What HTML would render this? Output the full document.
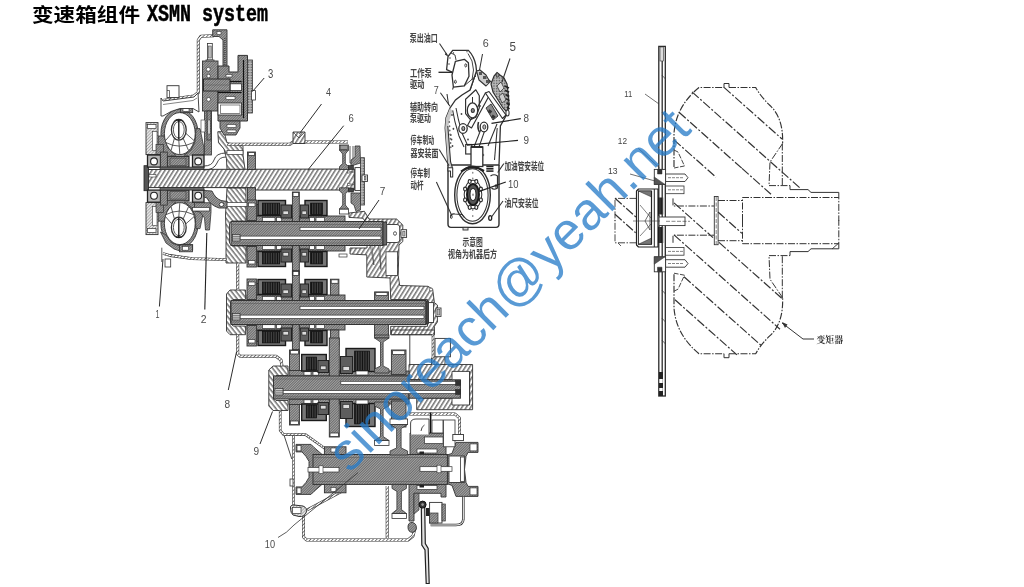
<!DOCTYPE html>
<html lang="zh"><head><meta charset="utf-8"><title>变速箱组件 XSMN system</title>
<style>
html,body{margin:0;padding:0;background:#fff;}
body{width:1024px;height:587px;overflow:hidden;position:relative;font-family:"Liberation Sans","Noto Sans CJK SC",sans-serif;}
h1{position:absolute;left:0;top:0;margin:0;width:400px;height:30px;font-weight:bold;color:#000;white-space:nowrap;}
h1 .c{position:absolute;left:32px;top:-0.5px;font-size:19px;line-height:32px;font-family:"Liberation Sans","Noto Sans CJK SC",sans-serif;transform:scaleX(1.137);transform-origin:0 0;}
h1 .l{position:absolute;left:146.6px;top:-0.7px;font-size:23.5px;-webkit-text-stroke:0.5px #000;line-height:32px;font-family:"Liberation Mono",monospace;transform:scaleX(0.78);transform-origin:0 0;white-space:pre;}
svg{position:absolute;left:0;top:0;}
#dr{filter:blur(0.45px);}
h1{filter:blur(0.3px);}
.wm{position:absolute;left:0;top:0;width:1024px;height:587px;opacity:0.76;pointer-events:none;}
</style></head><body>
<h1><span class="c">变速箱组件</span><span class="l">XSMN system</span></h1>
<svg id="dr" width="1024" height="587" viewBox="0 0 1024 587">
<defs>
<pattern id="hA" width="3.7" height="3.7" patternUnits="userSpaceOnUse" patternTransform="rotate(-58)"><rect width="3.7" height="3.7" fill="#fff"/><line x1="0" y1="0.8" x2="3.7" y2="0.8" stroke="#555" stroke-width="1.25"/></pattern>
<pattern id="hA2" width="3.7" height="3.7" patternUnits="userSpaceOnUse" patternTransform="rotate(52)"><rect width="3.7" height="3.7" fill="#fff"/><line x1="0" y1="0.8" x2="3.7" y2="0.8" stroke="#555" stroke-width="1.25"/></pattern>
<pattern id="hB" width="1.8" height="1.8" patternUnits="userSpaceOnUse" patternTransform="rotate(-45)"><rect width="1.8" height="1.8" fill="#a2a2a2"/><line x1="0" y1="0" x2="1.8" y2="0" stroke="#5a5a5a" stroke-width="1.3"/></pattern>
<pattern id="hC" width="1.7" height="4" patternUnits="userSpaceOnUse"><rect width="1.7" height="4" fill="#555"/><line x1="0.5" y1="0" x2="0.5" y2="4" stroke="#111" stroke-width="1.1"/></pattern>
<pattern id="hL" width="2.2" height="2.2" patternUnits="userSpaceOnUse" patternTransform="rotate(-45)"><rect width="2.2" height="2.2" fill="#e4e4e4"/><line x1="0" y1="0" x2="2.2" y2="0" stroke="#777" stroke-width="0.9"/></pattern>
<pattern id="hW" width="2.6" height="2.6" patternUnits="userSpaceOnUse" patternTransform="rotate(-45)"><rect width="2.6" height="2.6" fill="#fff"/><line x1="0" y1="0" x2="2.6" y2="0" stroke="#3a3a3a" stroke-width="1.3"/></pattern>
<pattern id="hD" width="1.6" height="1.6" patternUnits="userSpaceOnUse"><rect width="1.6" height="1.6" fill="#bbb"/><rect width="0.8" height="0.8" fill="#555"/></pattern>
</defs>
<g id="main">
<polygon points="217.8,131.7 224.0,131.7 227.0,142.7 243.0,145.8 243.0,155.0 245.0,169.5 227.0,169.5 226.4,158.4 224.0,149.0 218.5,142.7" fill="url(#hA2)" stroke="#333" stroke-width="0.90" stroke-linejoin="round"/>
<rect x="227.0" y="150.5" width="16.0" height="4.0" fill="#fff" stroke="#333" stroke-width="0.70" />
<polygon points="227.0,188.0 246.0,188.0 246.0,221.0 232.0,221.0 229.5,224.0 229.5,243.0 232.0,246.0 246.0,246.0 246.0,263.0 226.0,263.0 226.0,230.0 225.5,215.0" fill="url(#hA2)" stroke="#333" stroke-width="0.90" stroke-linejoin="round"/>
<rect x="220.0" y="202.5" width="35.0" height="3.9" fill="#fff" stroke="#333" stroke-width="0.70" />
<polygon points="349.0,213.0 364.4,211.3 369.0,219.0 396.6,219.0 402.8,225.0 402.8,241.5 399.0,245.0 398.2,275.6 399.7,285.5 428.0,286.3 432.7,289.4 434.4,302.6 437.4,305.0 437.4,322.0 434.4,326.3 434.4,334.8 390.7,334.8 390.7,326.3 427.5,326.3 427.5,299.5 390.7,299.5 390.0,278.0 366.8,277.0 366.8,254.9 350.0,254.0 350.0,248.0 367.0,248.0 367.0,243.4 384.4,243.4 384.4,225.0 367.5,225.0 363.0,218.2 349.0,217.4" fill="url(#hA)" stroke="#333" stroke-width="0.90" stroke-linejoin="round"/>
<rect x="386.0" y="251.8" width="11.4" height="23.8" fill="#fff" stroke="#333" stroke-width="0.80" />
<polygon points="370.2,245.0 371.8,245.0 373.9,265.0" fill="#fff" stroke="#333" stroke-width="0.60" stroke-linejoin="round"/>
<polygon points="378.6,245.0 380.0,245.0 380.9,269.5" fill="#fff" stroke="#333" stroke-width="0.60" stroke-linejoin="round"/>
<ellipse cx="431.0" cy="289.5" rx="1.6" ry="1.6" fill="#fff" stroke="#333" stroke-width="0.70"/>
<polygon points="230.0,290.0 245.6,290.0 245.6,299.5 233.0,299.5 230.5,302.0 230.5,323.0 233.0,326.0 245.6,326.0 245.6,334.7 230.0,334.7 226.5,331.0 226.5,294.0" fill="url(#hA2)" stroke="#333" stroke-width="0.90" stroke-linejoin="round"/>
<polygon points="273.0,366.0 288.0,366.0 288.0,375.5 276.0,375.5 273.5,378.0 273.5,398.0 276.0,400.5 288.0,400.5 288.0,410.5 273.0,410.5 268.8,406.0 268.8,370.0" fill="url(#hA2)" stroke="#333" stroke-width="0.90" stroke-linejoin="round"/>
<polygon points="409.0,364.5 472.6,364.5 472.6,409.7 416.7,409.7 416.7,398.0 452.0,398.0 452.0,405.0 469.6,405.0 469.6,371.4 452.0,371.4 452.0,379.5 409.0,379.5" fill="url(#hA)" stroke="#333" stroke-width="0.90" stroke-linejoin="round"/>
<polyline points="469.6,371.4 469.6,405.0" fill="none" stroke="#333" stroke-width="0.80" />
<polygon points="431.5,364.5 431.5,358.0 436.0,356.4 445.0,356.4 445.0,364.5" fill="url(#hA)" stroke="#333" stroke-width="0.90" stroke-linejoin="round"/>
<polygon points="391.4,330.0 434.3,330.0 434.3,334.6 391.4,334.6" fill="url(#hA)" stroke="#333" stroke-width="0.90" stroke-linejoin="round"/>
<polyline points="163.0,253.5 170.0,255.5 192.0,258.7 227.0,259.6" fill="none" stroke="#333" stroke-width="2.8" stroke-linejoin="round"/>
<polyline points="163.0,253.5 170.0,255.5 192.0,258.7 227.0,259.6" fill="none" stroke="url(#hW)" stroke-width="1.7" stroke-linejoin="round"/>
<rect x="165.0" y="259.0" width="5.7" height="8.0" fill="#fff" stroke="#333" stroke-width="0.80" />
<polyline points="237.7,263.0 237.7,290.0" fill="none" stroke="#333" stroke-width="3.0" stroke-linejoin="round"/>
<polyline points="237.7,263.0 237.7,290.0" fill="none" stroke="url(#hW)" stroke-width="1.9" stroke-linejoin="round"/>
<polyline points="237.7,334.7 237.7,354.0 240.0,356.2 276.0,356.2 281.0,360.0 282.0,366.0" fill="none" stroke="#333" stroke-width="3.0" stroke-linejoin="round"/>
<polyline points="237.7,334.7 237.7,354.0 240.0,356.2 276.0,356.2 281.0,360.0 282.0,366.0" fill="none" stroke="url(#hW)" stroke-width="1.9" stroke-linejoin="round"/>
<polyline points="227.0,144.2 290.0,144.2 293.0,142.0 305.0,142.0 348.0,142.0" fill="none" stroke="#333" stroke-width="3.0" stroke-linejoin="round"/>
<polyline points="227.0,144.2 290.0,144.2 293.0,142.0 305.0,142.0 348.0,142.0" fill="none" stroke="url(#hW)" stroke-width="1.9" stroke-linejoin="round"/>
<polygon points="293.0,132.0 305.0,132.0 305.0,143.5 293.0,143.5" fill="url(#hA)" stroke="#333" stroke-width="0.90" stroke-linejoin="round"/>
<polyline points="293.0,132.0 299.0,138.0 305.0,132.0" fill="none" stroke="#333" stroke-width="0.70" />
<polyline points="163.0,100.5 194.0,96.0 198.3,92.5 198.3,40.0 201.0,36.2 214.0,35.8" fill="none" stroke="#333" stroke-width="3.0" stroke-linejoin="round"/>
<polyline points="163.0,100.5 194.0,96.0 198.3,92.5 198.3,40.0 201.0,36.2 214.0,35.8" fill="none" stroke="url(#hW)" stroke-width="1.9" stroke-linejoin="round"/>
<polygon points="212.7,29.8 227.0,29.8 227.0,66.5 223.0,66.5 223.0,40.0 219.0,36.5 212.7,36.5" fill="url(#hB)" stroke="#333" stroke-width="0.90" stroke-linejoin="round"/>
<rect x="217.0" y="31.5" width="4.0" height="3.0" fill="#fff" stroke="#333" stroke-width="0.60" />
<polyline points="224.9,38.0 224.9,66.0" fill="none" stroke="#222" stroke-width="0.90" stroke-dasharray="1 1" />
<polyline points="280.2,410.5 280.2,430.5 283.6,434.6 305.5,434.6 324.6,448.2 337.0,449.6" fill="none" stroke="#333" stroke-width="2.6" stroke-linejoin="round"/>
<polyline points="280.2,410.5 280.2,430.5 283.6,434.6 305.5,434.6 324.6,448.2 337.0,449.6" fill="none" stroke="url(#hW)" stroke-width="1.5" stroke-linejoin="round"/>
<polyline points="284.3,436.0 291.8,459.0" fill="none" stroke="#333" stroke-width="0.90" />
<polyline points="293.5,436.0 293.5,512.0" fill="none" stroke="#333" stroke-width="2.4" stroke-linejoin="round"/>
<polyline points="293.5,436.0 293.5,512.0" fill="none" stroke="url(#hW)" stroke-width="1.3" stroke-linejoin="round"/>
<rect x="290.0" y="479.0" width="3.0" height="7.0" fill="#fff" stroke="#333" stroke-width="0.80" />
<polyline points="303.5,514.0 303.5,537.0 306.5,540.0 408.0,540.0 413.0,536.0 415.0,528.0" fill="none" stroke="#333" stroke-width="3.0" stroke-linejoin="round"/>
<polyline points="303.5,514.0 303.5,537.0 306.5,540.0 408.0,540.0 413.0,536.0 415.0,528.0" fill="none" stroke="url(#hW)" stroke-width="1.9" stroke-linejoin="round"/>
<polyline points="307.0,510.0 342.5,491.0" fill="none" stroke="#333" stroke-width="2.6" stroke-linejoin="round"/>
<polyline points="307.0,510.0 342.5,491.0" fill="none" stroke="url(#hW)" stroke-width="1.5" stroke-linejoin="round"/>
<polyline points="387.2,486.0 387.2,538.0" fill="none" stroke="#333" stroke-width="3.0" stroke-linejoin="round"/>
<polyline points="387.2,486.0 387.2,538.0" fill="none" stroke="url(#hW)" stroke-width="1.9" stroke-linejoin="round"/>
<path d="M290.5 508 Q290 505 294 505 L303 506 Q308 508 306 513 Q304 517 299 516.5 L293 515 Q290.5 513 290.5 508 Z" fill="url(#hL)" stroke="#333" stroke-width="1.00" />
<rect x="292.5" y="507.5" width="8.5" height="6.0" fill="#fff" stroke="#333" stroke-width="0.70" />
<path d="M408 527 Q408 522.4 412 522.4 Q416.4 523 416.4 528 Q416 532.3 412 532.3 Q408 532 408 527 Z" fill="url(#hB)" stroke="#333" stroke-width="0.90" />
<polygon points="147.0,169.5 354.3,169.0 354.3,190.0 255.4,190.0 255.4,187.6 147.0,187.6" fill="url(#hA)" stroke="#333" stroke-width="1.00" stroke-linejoin="round"/>
<rect x="144.0" y="165.7" width="4.6" height="25.0" fill="#555" stroke="#222" stroke-width="0.80" />
<rect x="149.0" y="174.5" width="7.0" height="2.5" fill="#fff" stroke="#333" stroke-width="0.60" />
<rect x="355.0" y="167.6" width="5.6" height="23.0" fill="#fff" stroke="#333" stroke-width="0.90" />
<rect x="360.6" y="157.7" width="3.8" height="47.3" fill="url(#hD)" stroke="#333" stroke-width="0.80" />
<rect x="362.0" y="175.0" width="5.5" height="6.4" fill="#fff" stroke="#333" stroke-width="0.90" />
<rect x="364.4" y="176.5" width="1.6" height="3.5" fill="#aaa" stroke="#333" stroke-width="0.50" />
<polygon points="347.5,170.8 353.5,172.0 347.5,173.2" fill="#fff" stroke="#333" stroke-width="0.60" stroke-linejoin="round"/>
<polygon points="347.5,183.3 353.5,184.5 347.5,185.7" fill="#fff" stroke="#333" stroke-width="0.60" stroke-linejoin="round"/>
<rect x="339.5" y="145.0" width="9.0" height="5.0" fill="#fff" stroke="#333" stroke-width="0.80" />
<polygon points="339.5,150.0 348.5,150.0 345.3,154.0 345.3,163.5 348.5,166.5 348.5,169.5 339.5,169.5 339.5,166.5 342.7,163.5 342.7,154.0" fill="url(#hB)" stroke="#333" stroke-width="0.80" stroke-linejoin="round"/>
<rect x="339.5" y="209.0" width="9.0" height="5.0" fill="#fff" stroke="#333" stroke-width="0.80" />
<polygon points="339.5,209.0 348.5,209.0 345.3,205.0 345.3,193.8 348.5,190.8 348.5,187.8 339.5,187.8 339.5,190.8 342.7,193.8 342.7,205.0" fill="url(#hB)" stroke="#333" stroke-width="0.80" stroke-linejoin="round"/>
<rect x="340.5" y="145.6" width="7.0" height="3.9" fill="#999" stroke="#333" stroke-width="0.60" />
<path d="M350 146 L350 163 L353 163 L353 146" fill="none" stroke="#333" stroke-width="0.80" />
<polygon points="355.0,146.0 360.0,146.0 360.5,163.0 351.0,166.0 351.0,160.0 355.0,157.0" fill="url(#hB)" stroke="#333" stroke-width="0.80" stroke-linejoin="round"/>
<polygon points="351.0,193.0 360.5,193.0 360.5,210.0 356.0,211.5 354.0,205.0 351.0,203.0" fill="url(#hB)" stroke="#333" stroke-width="0.80" stroke-linejoin="round"/>
<rect x="348.5" y="165.5" width="5.0" height="3.8" fill="#444" stroke="#222" stroke-width="0.60" />
<rect x="348.5" y="188.0" width="5.0" height="4.0" fill="#444" stroke="#222" stroke-width="0.60" />
<rect x="247.5" y="152.0" width="7.9" height="17.5" fill="url(#hB)" stroke="#333" stroke-width="0.90" />
<rect x="248.3" y="152.6" width="6.3" height="2.9" fill="#fff" stroke="#333" stroke-width="0.80" />
<rect x="247.5" y="187.8" width="7.9" height="16.2" fill="url(#hB)" stroke="#333" stroke-width="0.90" />
<rect x="247.0" y="216.0" width="45.4" height="6.0" fill="url(#hB)" stroke="#333" stroke-width="0.90" />
<rect x="299.3" y="216.0" width="45.7" height="6.0" fill="url(#hB)" stroke="#333" stroke-width="0.90" />
<rect x="262.5" y="217.5" width="12.5" height="3.8" fill="#fff" stroke="#333" stroke-width="0.70" />
<rect x="276.5" y="217.5" width="5.2" height="3.8" fill="#fff" stroke="#333" stroke-width="0.70" />
<rect x="309.5" y="217.5" width="5.0" height="3.8" fill="#fff" stroke="#333" stroke-width="0.70" />
<rect x="316.0" y="217.5" width="8.5" height="3.8" fill="#fff" stroke="#333" stroke-width="0.70" />
<rect x="247.0" y="200.0" width="9.4" height="20.5" fill="url(#hB)" stroke="#333" stroke-width="0.90" />
<rect x="248.5" y="203.0" width="6.5" height="3.5" fill="#fff" stroke="#333" stroke-width="0.70" />
<rect x="257.0" y="204.5" width="4.5" height="11.0" fill="#fff" stroke="#333" stroke-width="0.70" />
<rect x="258.0" y="200.5" width="27.5" height="15.0" fill="#777" stroke="#1a1a1a" stroke-width="1.40" />
<rect x="262.5" y="203.1" width="17.1" height="11.4" fill="url(#hC)" stroke="#111" stroke-width="0.80" />
<rect x="281.0" y="205.0" width="10.5" height="13.0" fill="#5e5e5e" stroke="#222" stroke-width="1.00" />
<rect x="283.0" y="211.0" width="5.5" height="3.5" fill="#ddd" stroke="#222" stroke-width="0.60" />
<rect x="305.0" y="200.5" width="22.0" height="15.0" fill="#777" stroke="#1a1a1a" stroke-width="1.40" />
<rect x="310.6" y="203.1" width="11.8" height="11.4" fill="url(#hC)" stroke="#111" stroke-width="0.80" />
<rect x="300.3" y="205.0" width="8.2" height="13.0" fill="#5e5e5e" stroke="#222" stroke-width="1.00" />
<rect x="302.0" y="211.0" width="4.5" height="3.5" fill="#ddd" stroke="#222" stroke-width="0.60" />
<rect x="247.0" y="245.0" width="45.4" height="6.0" fill="url(#hB)" stroke="#333" stroke-width="0.90" />
<rect x="299.3" y="245.0" width="45.7" height="6.0" fill="url(#hB)" stroke="#333" stroke-width="0.90" />
<rect x="262.5" y="245.7" width="12.5" height="3.8" fill="#fff" stroke="#333" stroke-width="0.70" />
<rect x="276.5" y="245.7" width="5.2" height="3.8" fill="#fff" stroke="#333" stroke-width="0.70" />
<rect x="309.5" y="245.7" width="5.0" height="3.8" fill="#fff" stroke="#333" stroke-width="0.70" />
<rect x="316.0" y="245.7" width="8.5" height="3.8" fill="#fff" stroke="#333" stroke-width="0.70" />
<rect x="247.0" y="246.5" width="9.4" height="20.5" fill="url(#hB)" stroke="#333" stroke-width="0.90" />
<rect x="248.5" y="260.5" width="6.5" height="3.5" fill="#fff" stroke="#333" stroke-width="0.70" />
<rect x="257.0" y="251.5" width="4.5" height="11.0" fill="#fff" stroke="#333" stroke-width="0.70" />
<rect x="258.0" y="251.5" width="27.5" height="15.0" fill="#777" stroke="#1a1a1a" stroke-width="1.40" />
<rect x="262.5" y="252.5" width="17.1" height="11.4" fill="url(#hC)" stroke="#111" stroke-width="0.80" />
<rect x="281.0" y="249.0" width="10.5" height="13.0" fill="#5e5e5e" stroke="#222" stroke-width="1.00" />
<rect x="283.0" y="252.5" width="5.5" height="3.5" fill="#ddd" stroke="#222" stroke-width="0.60" />
<rect x="305.0" y="251.5" width="22.0" height="15.0" fill="#777" stroke="#1a1a1a" stroke-width="1.40" />
<rect x="310.6" y="252.5" width="11.8" height="11.4" fill="url(#hC)" stroke="#111" stroke-width="0.80" />
<rect x="300.3" y="249.0" width="8.2" height="13.0" fill="#5e5e5e" stroke="#222" stroke-width="1.00" />
<rect x="302.0" y="252.5" width="4.5" height="3.5" fill="#ddd" stroke="#222" stroke-width="0.60" />
<rect x="292.4" y="192.0" width="6.9" height="83.0" fill="url(#hB)" stroke="#333" stroke-width="0.90" />
<rect x="293.0" y="192.5" width="5.7" height="4.0" fill="#fff" stroke="#333" stroke-width="0.80" />
<rect x="293.0" y="270.5" width="5.7" height="4.0" fill="#fff" stroke="#333" stroke-width="0.80" />
<rect x="231.0" y="221.5" width="152.0" height="24.0" fill="url(#hB)" stroke="#333" stroke-width="1.00" />
<rect x="240.0" y="236.1" width="141.0" height="3.4" fill="#fff" stroke="#333" stroke-width="0.70" />
<rect x="300.0" y="227.3" width="81.0" height="3.2" fill="#fff" stroke="#333" stroke-width="0.70" />
<rect x="232.5" y="234.5" width="7.5" height="6.5" fill="#ccc" stroke="#333" stroke-width="0.70" />
<polyline points="233.0,236.7 240.0,236.7" fill="none" stroke="#333" stroke-width="0.60" />
<polyline points="233.0,238.9 240.0,238.9" fill="none" stroke="#333" stroke-width="0.60" />
<polyline points="231.0,224.5 383.0,224.5" fill="none" stroke="#555" stroke-width="0.50" />
<polyline points="231.0,243.0 383.0,243.0" fill="none" stroke="#555" stroke-width="0.50" />
<rect x="247.0" y="295.0" width="45.4" height="6.0" fill="url(#hB)" stroke="#333" stroke-width="0.90" />
<rect x="299.3" y="295.0" width="45.7" height="6.0" fill="url(#hB)" stroke="#333" stroke-width="0.90" />
<rect x="262.5" y="296.5" width="12.5" height="3.8" fill="#fff" stroke="#333" stroke-width="0.70" />
<rect x="276.5" y="296.5" width="5.2" height="3.8" fill="#fff" stroke="#333" stroke-width="0.70" />
<rect x="309.5" y="296.5" width="5.0" height="3.8" fill="#fff" stroke="#333" stroke-width="0.70" />
<rect x="316.0" y="296.5" width="8.5" height="3.8" fill="#fff" stroke="#333" stroke-width="0.70" />
<rect x="247.0" y="279.0" width="9.4" height="20.5" fill="url(#hB)" stroke="#333" stroke-width="0.90" />
<rect x="248.5" y="282.0" width="6.5" height="3.5" fill="#fff" stroke="#333" stroke-width="0.70" />
<rect x="257.0" y="283.5" width="4.5" height="11.0" fill="#fff" stroke="#333" stroke-width="0.70" />
<rect x="258.0" y="279.5" width="27.5" height="15.0" fill="#777" stroke="#1a1a1a" stroke-width="1.40" />
<rect x="262.5" y="282.1" width="17.1" height="11.4" fill="url(#hC)" stroke="#111" stroke-width="0.80" />
<rect x="281.0" y="284.0" width="10.5" height="13.0" fill="#5e5e5e" stroke="#222" stroke-width="1.00" />
<rect x="283.0" y="290.0" width="5.5" height="3.5" fill="#ddd" stroke="#222" stroke-width="0.60" />
<rect x="305.0" y="279.5" width="22.0" height="15.0" fill="#777" stroke="#1a1a1a" stroke-width="1.40" />
<rect x="310.6" y="282.1" width="11.8" height="11.4" fill="url(#hC)" stroke="#111" stroke-width="0.80" />
<rect x="300.3" y="284.0" width="8.2" height="13.0" fill="#5e5e5e" stroke="#222" stroke-width="1.00" />
<rect x="302.0" y="290.0" width="4.5" height="3.5" fill="#ddd" stroke="#222" stroke-width="0.60" />
<rect x="247.0" y="324.0" width="45.4" height="6.0" fill="url(#hB)" stroke="#333" stroke-width="0.90" />
<rect x="299.3" y="324.0" width="45.7" height="6.0" fill="url(#hB)" stroke="#333" stroke-width="0.90" />
<rect x="262.5" y="324.7" width="12.5" height="3.8" fill="#fff" stroke="#333" stroke-width="0.70" />
<rect x="276.5" y="324.7" width="5.2" height="3.8" fill="#fff" stroke="#333" stroke-width="0.70" />
<rect x="309.5" y="324.7" width="5.0" height="3.8" fill="#fff" stroke="#333" stroke-width="0.70" />
<rect x="316.0" y="324.7" width="8.5" height="3.8" fill="#fff" stroke="#333" stroke-width="0.70" />
<rect x="247.0" y="325.5" width="9.4" height="20.5" fill="url(#hB)" stroke="#333" stroke-width="0.90" />
<rect x="248.5" y="339.5" width="6.5" height="3.5" fill="#fff" stroke="#333" stroke-width="0.70" />
<rect x="257.0" y="330.5" width="4.5" height="11.0" fill="#fff" stroke="#333" stroke-width="0.70" />
<rect x="258.0" y="330.5" width="27.5" height="15.0" fill="#777" stroke="#1a1a1a" stroke-width="1.40" />
<rect x="262.5" y="331.5" width="17.1" height="11.4" fill="url(#hC)" stroke="#111" stroke-width="0.80" />
<rect x="281.0" y="328.0" width="10.5" height="13.0" fill="#5e5e5e" stroke="#222" stroke-width="1.00" />
<rect x="283.0" y="331.5" width="5.5" height="3.5" fill="#ddd" stroke="#222" stroke-width="0.60" />
<rect x="305.0" y="330.5" width="22.0" height="15.0" fill="#777" stroke="#1a1a1a" stroke-width="1.40" />
<rect x="310.6" y="331.5" width="11.8" height="11.4" fill="url(#hC)" stroke="#111" stroke-width="0.80" />
<rect x="300.3" y="328.0" width="8.2" height="13.0" fill="#5e5e5e" stroke="#222" stroke-width="1.00" />
<rect x="302.0" y="331.5" width="4.5" height="3.5" fill="#ddd" stroke="#222" stroke-width="0.60" />
<rect x="292.4" y="271.0" width="6.9" height="83.0" fill="url(#hB)" stroke="#333" stroke-width="0.90" />
<rect x="293.0" y="271.5" width="5.7" height="4.0" fill="#fff" stroke="#333" stroke-width="0.80" />
<rect x="293.0" y="349.5" width="5.7" height="4.0" fill="#fff" stroke="#333" stroke-width="0.80" />
<rect x="231.0" y="300.5" width="195.0" height="24.0" fill="url(#hB)" stroke="#333" stroke-width="1.00" />
<rect x="240.0" y="315.1" width="184.0" height="3.4" fill="#fff" stroke="#333" stroke-width="0.70" />
<rect x="300.0" y="306.3" width="124.0" height="3.2" fill="#fff" stroke="#333" stroke-width="0.70" />
<rect x="232.5" y="313.5" width="7.5" height="6.5" fill="#ccc" stroke="#333" stroke-width="0.70" />
<polyline points="233.0,315.7 240.0,315.7" fill="none" stroke="#333" stroke-width="0.60" />
<polyline points="233.0,317.9 240.0,317.9" fill="none" stroke="#333" stroke-width="0.60" />
<polyline points="231.0,303.5 426.0,303.5" fill="none" stroke="#555" stroke-width="0.50" />
<polyline points="231.0,322.0 426.0,322.0" fill="none" stroke="#555" stroke-width="0.50" />
<rect x="383.0" y="222.0" width="3.7" height="23.0" fill="#666" stroke="#222" stroke-width="0.80" />
<path d="M386.7 224.5 H397 Q399.7 224.5 399.7 227 V240 Q399.7 242.5 397 242.5 H386.7 Z" fill="#fff" stroke="#333" stroke-width="0.90" />
<ellipse cx="395.0" cy="233.5" rx="1.5" ry="1.8" fill="#fff" stroke="#333" stroke-width="0.80"/>
<rect x="401.0" y="229.7" width="5.6" height="7.7" fill="#fff" stroke="#333" stroke-width="0.90" />
<rect x="402.8" y="231.2" width="2.2" height="4.8" fill="#bbb" stroke="#333" stroke-width="0.50" />
<rect x="426.0" y="301.0" width="2.5" height="23.0" fill="#444" stroke="#222" stroke-width="0.60" />
<rect x="428.5" y="302.6" width="5.1" height="19.9" fill="#fff" stroke="#333" stroke-width="0.90" />
<rect x="436.0" y="308.0" width="5.0" height="8.4" fill="#fff" stroke="#333" stroke-width="0.90" />
<rect x="437.6" y="309.5" width="2.2" height="5.5" fill="#bbb" stroke="#333" stroke-width="0.50" />
<rect x="339.0" y="254.0" width="8.0" height="3.0" fill="#fff" stroke="#333" stroke-width="0.70" />
<rect x="374.6" y="291.9" width="13.8" height="8.6" fill="url(#hB)" stroke="#333" stroke-width="0.90" />
<rect x="375.8" y="292.4" width="11.4" height="3.1" fill="#fff" stroke="#333" stroke-width="0.80" />
<rect x="374.6" y="324.5" width="13.8" height="11.5" fill="url(#hB)" stroke="#333" stroke-width="0.90" />
<rect x="330.4" y="279.2" width="8.5" height="15.8" fill="url(#hB)" stroke="#333" stroke-width="0.90" />
<rect x="331.2" y="279.8" width="6.9" height="3.5" fill="#fff" stroke="#333" stroke-width="0.80" />
<rect x="330.4" y="330.0" width="8.5" height="15.8" fill="url(#hB)" stroke="#333" stroke-width="0.90" />
<rect x="331.2" y="341.8" width="6.9" height="3.4" fill="#fff" stroke="#333" stroke-width="0.80" />
<rect x="289.5" y="350.0" width="9.9" height="75.0" fill="url(#hB)" stroke="#333" stroke-width="0.90" />
<rect x="290.3" y="350.6" width="8.3" height="3.4" fill="#fff" stroke="#333" stroke-width="0.80" />
<rect x="290.3" y="421.0" width="8.3" height="3.4" fill="#fff" stroke="#333" stroke-width="0.80" />
<rect x="329.3" y="338.0" width="10.0" height="99.0" fill="url(#hB)" stroke="#333" stroke-width="0.90" />
<rect x="330.0" y="433.0" width="8.6" height="3.5" fill="#fff" stroke="#333" stroke-width="0.80" />
<rect x="289.0" y="370.5" width="40.3" height="5.5" fill="url(#hB)" stroke="#333" stroke-width="0.90" />
<rect x="339.3" y="371.0" width="69.7" height="5.0" fill="url(#hB)" stroke="#333" stroke-width="0.90" />
<rect x="304.0" y="371.7" width="7.0" height="3.5" fill="#fff" stroke="#333" stroke-width="0.70" />
<rect x="313.0" y="371.7" width="5.5" height="3.5" fill="#fff" stroke="#333" stroke-width="0.70" />
<rect x="301.7" y="354.5" width="24.6" height="16.5" fill="#777" stroke="#1a1a1a" stroke-width="1.40" />
<rect x="306.3" y="357.1" width="10.2" height="12.9" fill="url(#hC)" stroke="#111" stroke-width="0.80" />
<rect x="318.0" y="360.5" width="10.5" height="12.0" fill="#5e5e5e" stroke="#222" stroke-width="1.00" />
<rect x="320.5" y="366.0" width="5.5" height="3.5" fill="#ddd" stroke="#222" stroke-width="0.60" />
<rect x="346.0" y="348.5" width="29.0" height="23.0" fill="#777" stroke="#1a1a1a" stroke-width="1.40" />
<rect x="354.6" y="351.1" width="14.8" height="19.4" fill="url(#hC)" stroke="#111" stroke-width="0.80" />
<rect x="340.5" y="356.5" width="12.0" height="17.0" fill="#5e5e5e" stroke="#222" stroke-width="1.00" />
<rect x="343.0" y="366.5" width="6.5" height="4.0" fill="#ddd" stroke="#222" stroke-width="0.60" />
<rect x="356.0" y="371.0" width="12.0" height="4.0" fill="#fff" stroke="#333" stroke-width="0.70" />
<rect x="289.0" y="399.0" width="40.3" height="5.5" fill="url(#hB)" stroke="#333" stroke-width="0.90" />
<rect x="339.3" y="399.0" width="69.7" height="5.0" fill="url(#hB)" stroke="#333" stroke-width="0.90" />
<rect x="304.0" y="399.8" width="7.0" height="3.5" fill="#fff" stroke="#333" stroke-width="0.70" />
<rect x="313.0" y="399.8" width="5.5" height="3.5" fill="#fff" stroke="#333" stroke-width="0.70" />
<rect x="301.7" y="404.0" width="24.6" height="16.5" fill="#777" stroke="#1a1a1a" stroke-width="1.40" />
<rect x="306.3" y="405.0" width="10.2" height="12.9" fill="url(#hC)" stroke="#111" stroke-width="0.80" />
<rect x="318.0" y="402.5" width="10.5" height="12.0" fill="#5e5e5e" stroke="#222" stroke-width="1.00" />
<rect x="320.5" y="405.5" width="5.5" height="3.5" fill="#ddd" stroke="#222" stroke-width="0.60" />
<rect x="346.0" y="403.5" width="29.0" height="23.0" fill="#777" stroke="#1a1a1a" stroke-width="1.40" />
<rect x="354.6" y="404.5" width="14.8" height="19.4" fill="url(#hC)" stroke="#111" stroke-width="0.80" />
<rect x="340.5" y="401.5" width="12.0" height="17.0" fill="#5e5e5e" stroke="#222" stroke-width="1.00" />
<rect x="343.0" y="404.5" width="6.5" height="4.0" fill="#ddd" stroke="#222" stroke-width="0.60" />
<rect x="356.0" y="400.0" width="12.0" height="4.0" fill="#fff" stroke="#333" stroke-width="0.70" />
<rect x="374.6" y="335.0" width="14.4" height="3.0" fill="url(#hB)" stroke="#333" stroke-width="0.80" />
<polygon points="374.6,338.0 389.0,338.0 383.1,342.0 383.1,366.0 389.0,369.0 389.0,373.0 374.6,373.0 374.6,369.0 380.5,366.0 380.5,342.0" fill="url(#hB)" stroke="#333" stroke-width="0.80" stroke-linejoin="round"/>
<rect x="391.4" y="350.0" width="14.6" height="24.4" fill="url(#hB)" stroke="#333" stroke-width="0.90" />
<rect x="392.6" y="350.7" width="12.2" height="3.8" fill="#fff" stroke="#333" stroke-width="0.80" />
<rect x="374.6" y="440.5" width="14.4" height="5.0" fill="#fff" stroke="#333" stroke-width="0.80" />
<polygon points="374.6,440.5 389.0,440.5 383.1,436.5 383.1,409.0 389.0,406.0 389.0,402.0 374.6,402.0 374.6,406.0 380.5,409.0 380.5,436.5" fill="url(#hB)" stroke="#333" stroke-width="0.80" stroke-linejoin="round"/>
<rect x="391.4" y="401.0" width="14.6" height="26.0" fill="url(#hB)" stroke="#333" stroke-width="0.90" />
<rect x="273.5" y="376.0" width="135.5" height="23.0" fill="url(#hB)" stroke="#333" stroke-width="1.00" />
<rect x="409.0" y="379.8" width="51.4" height="18.4" fill="url(#hB)" stroke="#333" stroke-width="1.00" />
<rect x="283.0" y="390.6" width="175.0" height="3.0" fill="#fff" stroke="#333" stroke-width="0.70" />
<rect x="340.8" y="381.3" width="117.2" height="3.1" fill="#fff" stroke="#333" stroke-width="0.70" />
<rect x="275.0" y="388.5" width="8.0" height="6.5" fill="#ccc" stroke="#333" stroke-width="0.70" />
<polyline points="276.0,390.7 283.0,390.7" fill="none" stroke="#333" stroke-width="0.60" />
<polyline points="276.0,392.9 283.0,392.9" fill="none" stroke="#333" stroke-width="0.60" />
<rect x="455.5" y="380.5" width="4.9" height="5.0" fill="#333" stroke="#222" stroke-width="0.50" />
<rect x="455.5" y="389.5" width="4.9" height="5.0" fill="#333" stroke="#222" stroke-width="0.50" />
<polyline points="273.5,379.0 409.0,379.0" fill="none" stroke="#555" stroke-width="0.50" />
<polyline points="273.5,396.8 409.0,396.8" fill="none" stroke="#555" stroke-width="0.50" />
<polyline points="409.8,334.6 409.8,364.5" fill="none" stroke="#333" stroke-width="0.90" />
<polyline points="433.0,334.6 433.0,364.5" fill="none" stroke="#333" stroke-width="2.6" stroke-linejoin="round"/>
<polyline points="433.0,334.6 433.0,364.5" fill="none" stroke="url(#hW)" stroke-width="1.5" stroke-linejoin="round"/>
<rect x="435.0" y="338.4" width="15.4" height="18.4" fill="#fff" stroke="#333" stroke-width="0.90" />
<rect x="324.4" y="446.8" width="21.6" height="9.2" fill="url(#hB)" stroke="#333" stroke-width="0.90" />
<rect x="324.4" y="483.6" width="21.6" height="9.2" fill="url(#hB)" stroke="#333" stroke-width="0.90" />
<rect x="331.0" y="448.0" width="5.0" height="4.0" fill="#fff" stroke="#333" stroke-width="0.60" />
<rect x="331.0" y="487.5" width="5.0" height="4.0" fill="#fff" stroke="#333" stroke-width="0.60" />
<polygon points="296.0,444.4 311.0,444.4 314.0,447.4 322.0,454.4 324.0,454.4 324.0,469.4 309.0,469.4 309.0,461.4 306.0,456.4 302.0,451.9 296.0,451.9" fill="url(#hB)" stroke="#333" stroke-width="0.90" stroke-linejoin="round"/>
<rect x="297.0" y="445.4" width="4.0" height="5.5" fill="#fff" stroke="#333" stroke-width="0.70" />
<polygon points="296.0,494.4 311.0,494.4 314.0,491.4 322.0,484.4 324.0,484.4 324.0,469.4 309.0,469.4 309.0,477.4 306.0,482.4 302.0,486.9 296.0,486.9" fill="url(#hB)" stroke="#333" stroke-width="0.90" stroke-linejoin="round"/>
<rect x="297.0" y="487.9" width="4.0" height="5.5" fill="#fff" stroke="#333" stroke-width="0.70" />
<polygon points="446.0,455.4 452.0,453.4 456.0,442.4 478.0,442.4 478.0,452.4 468.0,452.4 466.0,456.4 464.5,469.4 446.0,469.4" fill="url(#hB)" stroke="#333" stroke-width="0.90" stroke-linejoin="round"/>
<rect x="470.0" y="443.9" width="7.0" height="7.0" fill="#fff" stroke="#333" stroke-width="0.70" />
<polygon points="446.0,483.4 452.0,485.4 456.0,496.4 478.0,496.4 478.0,486.4 468.0,486.4 466.0,482.4 464.5,469.4 446.0,469.4" fill="url(#hB)" stroke="#333" stroke-width="0.90" stroke-linejoin="round"/>
<rect x="470.0" y="487.9" width="7.0" height="7.0" fill="#fff" stroke="#333" stroke-width="0.70" />
<rect x="449.0" y="456.0" width="15.3" height="26.5" fill="#fff" stroke="#333" stroke-width="0.90" />
<rect x="460.5" y="457.0" width="3.8" height="24.5" fill="#fff" stroke="#333" stroke-width="0.80" />
<polygon points="410.0,433.0 446.0,433.0 446.0,454.4 410.0,454.4" fill="url(#hB)" stroke="#333" stroke-width="0.90" stroke-linejoin="round"/>
<polygon points="409.0,484.4 446.0,484.4 446.0,497.0 441.0,497.0 441.0,493.3 414.0,493.3 414.0,521.0 409.0,521.0" fill="url(#hB)" stroke="#333" stroke-width="0.90" stroke-linejoin="round"/>
<polygon points="414.0,493.3 419.0,493.3 419.0,510.0 414.0,514.0" fill="url(#hB)" stroke="#333" stroke-width="0.70" stroke-linejoin="round"/>
<rect x="424.5" y="437.0" width="18.5" height="6.5" fill="#fff" stroke="#333" stroke-width="0.70" />
<rect x="417.0" y="449.0" width="20.0" height="4.0" fill="#fff" stroke="#333" stroke-width="0.70" />
<rect x="417.0" y="485.5" width="20.0" height="4.0" fill="#fff" stroke="#333" stroke-width="0.70" />
<rect x="419.5" y="451.5" width="4.5" height="4.3" fill="#222" stroke="none" stroke-width="0.00" />
<rect x="419.5" y="483.0" width="4.5" height="4.5" fill="#222" stroke="none" stroke-width="0.00" />
<rect x="313.0" y="454.5" width="134.4" height="29.9" fill="url(#hB)" stroke="#333" stroke-width="1.00" />
<rect x="308.0" y="467.4" width="31.0" height="4.6" fill="#fff" stroke="#333" stroke-width="0.70" />
<rect x="319.0" y="465.8" width="4.0" height="7.8" fill="#fff" stroke="#333" stroke-width="0.60" />
<rect x="420.0" y="466.7" width="32.0" height="4.6" fill="#fff" stroke="#333" stroke-width="0.70" />
<rect x="437.0" y="465.2" width="4.0" height="7.6" fill="#fff" stroke="#333" stroke-width="0.60" />
<polyline points="313.0,457.5 447.0,457.5" fill="none" stroke="#555" stroke-width="0.50" />
<polyline points="313.0,481.5 447.0,481.5" fill="none" stroke="#555" stroke-width="0.50" />
<rect x="390.0" y="419.0" width="17.6" height="5.5" fill="#fff" stroke="#333" stroke-width="0.80" />
<polygon points="390.0,424.5 407.6,424.5 401.1,428.5 401.1,448.0 407.6,451.0 407.6,455.0 390.0,455.0 390.0,451.0 396.6,448.0 396.6,428.5" fill="url(#hB)" stroke="#333" stroke-width="0.80" stroke-linejoin="round"/>
<rect x="392.0" y="513.5" width="14.4" height="5.0" fill="#fff" stroke="#333" stroke-width="0.80" />
<polygon points="392.0,513.5 406.4,513.5 401.4,509.5 401.4,491.4 406.4,488.4 406.4,484.4 392.0,484.4 392.0,488.4 396.9,491.4 396.9,509.5" fill="url(#hB)" stroke="#333" stroke-width="0.80" stroke-linejoin="round"/>
<polyline points="409.0,414.0 455.0,414.0 459.5,418.0 459.5,434.5" fill="none" stroke="#333" stroke-width="3.0" stroke-linejoin="round"/>
<polyline points="409.0,414.0 455.0,414.0 459.5,418.0 459.5,434.5" fill="none" stroke="url(#hW)" stroke-width="1.9" stroke-linejoin="round"/>
<polyline points="430.6,412.5 430.6,433.0" fill="none" stroke="#111" stroke-width="1.60" />
<rect x="432.0" y="420.0" width="11.0" height="13.0" fill="#fff" stroke="#333" stroke-width="0.80" />
<rect x="443.6" y="420.0" width="11.4" height="26.8" fill="#fff" stroke="#333" stroke-width="0.80" />
<rect x="452.8" y="434.5" width="10.7" height="6.1" fill="#fff" stroke="#333" stroke-width="0.90" />
<path d="M410.6 434.5 V423 Q411 419 416 419 H429 V434.5" fill="#fff" stroke="#333" stroke-width="0.90" />
<path d="M421 431 Q421.5 426.5 424.5 425" fill="none" stroke="#333" stroke-width="0.90" />
<path d="M463.3 496.8 V519.5 Q463 525 456 525 H430.6" fill="none" stroke="#333" stroke-width="2.60" />
<path d="M463.3 496.8 V519.5 Q463 525 456 525 H430.6" fill="none" stroke="#fff" stroke-width="1.00" />
<rect x="429.6" y="502.4" width="12.4" height="20.6" fill="#fff" stroke="#333" stroke-width="0.90" />
<rect x="442.0" y="504.0" width="3.3" height="17.0" fill="url(#hB)" stroke="#333" stroke-width="0.70" />
<rect x="429.6" y="513.0" width="8.4" height="10.0" fill="url(#hB)" stroke="#333" stroke-width="0.70" />
<path d="M421.3 506 L421.8 545 L425 550 L426.2 583.5 L429.2 583.5 L428.2 548.5 L425.3 543.5 L424.7 506 Z" fill="#e2e2e2" stroke="#222" stroke-width="1.20" />
<ellipse cx="422.6" cy="504.6" rx="3.5" ry="3.5" fill="#333" stroke="#111" stroke-width="1.00"/>
<ellipse cx="422.6" cy="504.6" rx="1.3" ry="1.3" fill="#999" stroke="none" stroke-width="0.00"/>
<rect x="426.0" y="508.0" width="3.5" height="8.0" fill="#222" stroke="none" stroke-width="0.00" />
<clipPath id="cpT"><rect x="140" y="90" width="80" height="65.5"/></clipPath><clipPath id="cpB"><rect x="140" y="201.7" width="80" height="60"/></clipPath>
<g clip-path="url(#cpT)">
<ellipse cx="179.5" cy="133.6" rx="18.6" ry="24.4" fill="url(#hB)" stroke="#333" stroke-width="0.90"/>
<polygon points="157.7,136.0 164.0,136.0 168.0,148.0 176.0,155.5 157.7,155.5" fill="url(#hB)" stroke="#333" stroke-width="0.80" stroke-linejoin="round"/>
<polygon points="196.0,128.6 200.0,128.6 204.0,148.0 204.0,155.5 184.0,155.5 191.0,150.0 195.0,142.0" fill="url(#hB)" stroke="#333" stroke-width="0.80" stroke-linejoin="round"/>
<rect x="146.0" y="122.6" width="12.0" height="32.0" fill="url(#hL)" stroke="#333" stroke-width="0.90" />
<rect x="147.5" y="124.6" width="8.5" height="4.0" fill="#fff" stroke="#333" stroke-width="0.70" />
<rect x="152.5" y="131.6" width="4.5" height="19.0" fill="#fff" stroke="#333" stroke-width="0.60" />
<rect x="156.0" y="144.6" width="7.5" height="10.0" fill="url(#hB)" stroke="#333" stroke-width="0.70" />
<ellipse cx="179.8" cy="133.6" rx="15.4" ry="21.0" fill="#fff" stroke="#333" stroke-width="0.90"/>
</g>
<ellipse cx="178.8" cy="129.8" rx="7.4" ry="10.3" fill="#fff" stroke="#333" stroke-width="1.30"/>
<ellipse cx="178.8" cy="129.8" rx="5.4" ry="8.3" fill="none" stroke="#333" stroke-width="0.80"/>
<polyline points="178.8,139.6 178.8,120.1" fill="none" stroke="#111" stroke-width="1.30" />
<polyline points="176.0,120.1 181.6,120.1" fill="none" stroke="#111" stroke-width="1.00" />
<polyline points="171.7,133.4 165.5,140.6" fill="none" stroke="#333" stroke-width="0.80" />
<polyline points="174.4,138.4 171.1,150.4" fill="none" stroke="#333" stroke-width="0.80" />
<polyline points="178.8,140.3 179.8,154.1" fill="none" stroke="#333" stroke-width="0.80" />
<polyline points="183.2,138.4 188.5,150.4" fill="none" stroke="#333" stroke-width="0.80" />
<polyline points="185.9,133.4 194.1,140.6" fill="none" stroke="#333" stroke-width="0.80" />
<path d="M166.0 142.6 Q179 149.6 193.5 142.6" fill="none" stroke="#333" stroke-width="0.80" />
<rect x="180.5" y="107.1" width="12.2" height="5.5" fill="url(#hB)" stroke="#333" stroke-width="0.80" />
<rect x="183.0" y="108.4" width="6.0" height="2.9" fill="#fff" stroke="#333" stroke-width="0.60" />
<rect x="147.5" y="155.0" width="13.0" height="12.1" fill="#b5b5b5" stroke="#222" stroke-width="1.30" />
<ellipse cx="154.0" cy="161.4" rx="3.4" ry="3.5" fill="#fff" stroke="#222" stroke-width="1.10"/>
<rect x="192.5" y="155.0" width="11.5" height="12.1" fill="#b5b5b5" stroke="#222" stroke-width="1.30" />
<ellipse cx="198.2" cy="161.4" rx="3.4" ry="3.5" fill="#fff" stroke="#222" stroke-width="1.10"/>
<rect x="167.3" y="156.3" width="21.7" height="10.8" fill="url(#hB)" stroke="#222" stroke-width="1.10" />
<rect x="170.0" y="158.1" width="16.0" height="7.5" fill="none" stroke="#444" stroke-width="0.70" />
<rect x="160.5" y="152.1" width="6.8" height="15.0" fill="url(#hB)" stroke="#333" stroke-width="0.80" />
<rect x="160.0" y="167.1" width="44.0" height="2.6" fill="#666" stroke="#222" stroke-width="0.60" />
<g clip-path="url(#cpB)">
<ellipse cx="179.5" cy="223.6" rx="18.6" ry="24.4" fill="url(#hB)" stroke="#333" stroke-width="0.90"/>
<polygon points="157.7,221.2 164.0,221.2 168.0,209.2 176.0,201.7 157.7,201.7" fill="url(#hB)" stroke="#333" stroke-width="0.80" stroke-linejoin="round"/>
<polygon points="196.0,228.6 200.0,228.6 204.0,209.2 204.0,201.7 184.0,201.7 191.0,207.2 195.0,215.2" fill="url(#hB)" stroke="#333" stroke-width="0.80" stroke-linejoin="round"/>
<rect x="146.0" y="202.6" width="12.0" height="32.0" fill="url(#hL)" stroke="#333" stroke-width="0.90" />
<rect x="147.5" y="228.6" width="8.5" height="4.0" fill="#fff" stroke="#333" stroke-width="0.70" />
<rect x="152.5" y="206.6" width="4.5" height="19.0" fill="#fff" stroke="#333" stroke-width="0.60" />
<rect x="156.0" y="202.6" width="7.5" height="10.0" fill="url(#hB)" stroke="#333" stroke-width="0.70" />
<ellipse cx="179.8" cy="223.6" rx="15.4" ry="21.0" fill="#fff" stroke="#333" stroke-width="0.90"/>
</g>
<ellipse cx="178.8" cy="227.4" rx="7.4" ry="10.3" fill="#fff" stroke="#333" stroke-width="1.30"/>
<ellipse cx="178.8" cy="227.4" rx="5.4" ry="8.3" fill="none" stroke="#333" stroke-width="0.80"/>
<polyline points="178.8,217.6 178.8,237.1" fill="none" stroke="#111" stroke-width="1.30" />
<polyline points="176.0,237.1 181.6,237.1" fill="none" stroke="#111" stroke-width="1.00" />
<polyline points="171.7,223.8 165.5,216.6" fill="none" stroke="#333" stroke-width="0.80" />
<polyline points="174.4,218.8 171.1,206.8" fill="none" stroke="#333" stroke-width="0.80" />
<polyline points="178.8,216.9 179.8,203.1" fill="none" stroke="#333" stroke-width="0.80" />
<polyline points="183.2,218.8 188.5,206.8" fill="none" stroke="#333" stroke-width="0.80" />
<polyline points="185.9,223.8 194.1,216.6" fill="none" stroke="#333" stroke-width="0.80" />
<path d="M166.0 214.6 Q179 207.6 193.5 214.6" fill="none" stroke="#333" stroke-width="0.80" />
<rect x="180.5" y="244.6" width="12.2" height="5.5" fill="url(#hB)" stroke="#333" stroke-width="0.80" />
<rect x="183.0" y="245.9" width="6.0" height="2.9" fill="#fff" stroke="#333" stroke-width="0.60" />
<rect x="147.5" y="190.1" width="13.0" height="12.1" fill="#b5b5b5" stroke="#222" stroke-width="1.30" />
<ellipse cx="154.0" cy="195.8" rx="3.4" ry="3.5" fill="#fff" stroke="#222" stroke-width="1.10"/>
<rect x="192.5" y="190.1" width="11.5" height="12.1" fill="#b5b5b5" stroke="#222" stroke-width="1.30" />
<ellipse cx="198.2" cy="195.8" rx="3.4" ry="3.5" fill="#fff" stroke="#222" stroke-width="1.10"/>
<rect x="167.3" y="190.1" width="21.7" height="10.8" fill="url(#hB)" stroke="#222" stroke-width="1.10" />
<rect x="170.0" y="191.6" width="16.0" height="7.5" fill="none" stroke="#444" stroke-width="0.70" />
<rect x="160.5" y="190.1" width="6.8" height="15.0" fill="url(#hB)" stroke="#333" stroke-width="0.80" />
<rect x="160.0" y="187.5" width="44.0" height="2.6" fill="#666" stroke="#222" stroke-width="0.60" />
<polygon points="161.0,98.0 163.0,101.0 194.0,97.0 198.0,93.0 199.0,112.0 193.0,108.5 180.0,108.5 171.0,111.5 163.0,116.0 161.0,116.0" fill="#fff" stroke="#333" stroke-width="0.90" stroke-linejoin="round"/>
<polyline points="163.0,104.5 193.0,100.5 197.0,98.0" fill="none" stroke="#333" stroke-width="0.60" />
<rect x="167.0" y="85.7" width="12.0" height="11.8" fill="#fff" stroke="#333" stroke-width="0.90" />
<polyline points="167.0,90.5 169.5,90.5 169.5,97.0" fill="none" stroke="#333" stroke-width="0.70" />
<rect x="204.5" y="97.7" width="7.0" height="57.3" fill="url(#hB)" stroke="#333" stroke-width="0.80" />
<rect x="207.5" y="112.0" width="3.0" height="16.0" fill="#fff" stroke="#333" stroke-width="0.60" />
<rect x="201.0" y="120.0" width="4.0" height="12.0" fill="#fff" stroke="#333" stroke-width="0.60" />
<path d="M204 166 Q212 166 214 160 Q216 153 226 153" fill="none" stroke="#333" stroke-width="0.90" />
<path d="M204 170 Q214 170 217 163 Q219 157 226 157" fill="none" stroke="#333" stroke-width="0.90" />
<polygon points="194.5,202.7 211.0,202.7 211.0,212.0 209.5,230.0 205.5,230.0 204.5,218.0 200.0,212.0 194.5,211.0" fill="url(#hB)" stroke="#333" stroke-width="0.80" stroke-linejoin="round"/>
<rect x="192.5" y="207.5" width="17.0" height="3.5" fill="#fff" stroke="#333" stroke-width="0.70" />
<path d="M204 190.5 L212 191 Q215 198 221 200.5 L227 201.5 L227 208 L219 208 Q210 205 207 198 L204 197 Z" fill="url(#hB)" stroke="#333" stroke-width="0.90" />
<ellipse cx="221.5" cy="204.5" rx="2.3" ry="2.0" fill="#fff" stroke="#333" stroke-width="0.90"/>
<polygon points="160.5,232.0 166.0,243.0 174.0,249.0 180.0,251.0 180.0,246.0 172.0,243.0 166.0,235.0" fill="url(#hB)" stroke="#333" stroke-width="0.80" stroke-linejoin="round"/>
<rect x="179.5" y="245.0" width="13.0" height="6.8" fill="url(#hB)" stroke="#333" stroke-width="0.80" />
<rect x="182.5" y="246.5" width="6.0" height="3.7" fill="#fff" stroke="#333" stroke-width="0.60" />
<polyline points="161.8,247.7 161.8,262.0" fill="none" stroke="#333" stroke-width="0.80" />
<rect x="207.4" y="43.6" width="4.9" height="16.4" fill="#fff" stroke="#333" stroke-width="0.80" />
<rect x="208.5" y="46.0" width="2.7" height="12.0" fill="#bbb" stroke="#333" stroke-width="0.50" />
<rect x="206.0" y="60.0" width="8.0" height="6.0" fill="#fff" stroke="#333" stroke-width="0.80" />
<rect x="202.5" y="61.0" width="15.5" height="50.0" fill="url(#hB)" stroke="#333" stroke-width="0.90" />
<ellipse cx="208.3" cy="69.3" rx="2.0" ry="2.0" fill="#fff" stroke="#333" stroke-width="0.70"/>
<ellipse cx="208.6" cy="76.0" rx="1.8" ry="1.8" fill="#fff" stroke="#333" stroke-width="0.70"/>
<ellipse cx="208.6" cy="99.4" rx="2.0" ry="2.0" fill="#fff" stroke="#333" stroke-width="0.70"/>
<rect x="207.0" y="111.0" width="4.0" height="29.0" fill="url(#hB)" stroke="#333" stroke-width="0.80" />
<rect x="208.0" y="120.0" width="2.0" height="14.0" fill="#fff" stroke="#333" stroke-width="0.50" />
<polygon points="218.0,66.0 229.0,66.0 229.0,72.0 238.0,72.0 238.0,55.4 247.5,55.4 247.5,121.0 218.0,121.0" fill="url(#hB)" stroke="#333" stroke-width="1.00" stroke-linejoin="round"/>
<rect x="230.0" y="83.8" width="11.6" height="6.8" fill="#fff" stroke="#333" stroke-width="0.80" />
<rect x="218.0" y="103.0" width="23.6" height="12.0" fill="#fff" stroke="#333" stroke-width="0.90" />
<rect x="220.5" y="105.0" width="19.5" height="8.4" fill="none" stroke="#333" stroke-width="0.60" />
<rect x="226.0" y="96.5" width="9.0" height="3.0" fill="#fff" stroke="#333" stroke-width="0.60" />
<rect x="226.0" y="74.5" width="6.0" height="2.5" fill="#fff" stroke="#333" stroke-width="0.60" />
<polyline points="243.5,60.0 243.5,118.0" fill="none" stroke="#111" stroke-width="1.20" />
<polyline points="218.0,81.5 241.6,81.5" fill="none" stroke="#111" stroke-width="1.20" />
<polyline points="218.0,92.5 241.6,92.5" fill="none" stroke="#111" stroke-width="1.20" />
<rect x="203.5" y="79.0" width="26.5" height="12.0" fill="url(#hB)" stroke="#222" stroke-width="0.90" />
<polyline points="203.5,85.0 230.0,85.0" fill="none" stroke="#555" stroke-width="0.50" />
<rect x="247.5" y="60.0" width="4.9" height="53.0" fill="url(#hD)" stroke="#333" stroke-width="0.80" />
<rect x="251.5" y="90.6" width="3.9" height="9.4" fill="#fff" stroke="#333" stroke-width="0.80" />
<polygon points="220.0,121.0 240.0,121.0 240.0,128.0 236.0,135.0 224.0,135.0 220.0,128.0" fill="url(#hB)" stroke="#333" stroke-width="0.90" stroke-linejoin="round"/>
<rect x="227.0" y="124.5" width="9.0" height="3.0" fill="#fff" stroke="#333" stroke-width="0.60" />
<rect x="227.0" y="130.0" width="9.0" height="2.5" fill="#fff" stroke="#333" stroke-width="0.60" />
<text x="268.0" y="77.6" font-size="12.3" font-family="&quot;Liberation Sans&quot;, &quot;Noto Sans CJK SC&quot;, sans-serif" fill="#4a4a4a" text-anchor="start" font-weight="normal" textLength="5.3" lengthAdjust="spacingAndGlyphs" >3</text>
<polyline points="264.2,78.0 252.4,91.6" fill="none" stroke="#2e2e2e" stroke-width="1.00" />
<text x="326.0" y="96.4" font-size="11.5" font-family="&quot;Liberation Sans&quot;, &quot;Noto Sans CJK SC&quot;, sans-serif" fill="#4a4a4a" text-anchor="start" font-weight="normal" textLength="5.0" lengthAdjust="spacingAndGlyphs" >4</text>
<polyline points="321.5,104.0 299.4,133.7" fill="none" stroke="#2e2e2e" stroke-width="1.00" />
<text x="348.6" y="121.6" font-size="11.2" font-family="&quot;Liberation Sans&quot;, &quot;Noto Sans CJK SC&quot;, sans-serif" fill="#4a4a4a" text-anchor="start" font-weight="normal" textLength="5.3" lengthAdjust="spacingAndGlyphs" >6</text>
<polyline points="343.7,125.7 307.6,170.3" fill="none" stroke="#2e2e2e" stroke-width="1.00" />
<text x="379.7" y="194.7" font-size="11.5" font-family="&quot;Liberation Sans&quot;, &quot;Noto Sans CJK SC&quot;, sans-serif" fill="#4a4a4a" text-anchor="start" font-weight="normal" textLength="5.6" lengthAdjust="spacingAndGlyphs" >7</text>
<polyline points="379.0,200.0 359.0,229.0" fill="none" stroke="#2e2e2e" stroke-width="1.00" />
<text x="155.5" y="317.8" font-size="11.0" font-family="&quot;Liberation Sans&quot;, &quot;Noto Sans CJK SC&quot;, sans-serif" fill="#4a4a4a" text-anchor="start" font-weight="normal" textLength="4.0" lengthAdjust="spacingAndGlyphs" >1</text>
<polyline points="163.0,259.0 159.4,306.5" fill="none" stroke="#2e2e2e" stroke-width="1.00" />
<text x="200.8" y="322.8" font-size="11.0" font-family="&quot;Liberation Sans&quot;, &quot;Noto Sans CJK SC&quot;, sans-serif" fill="#4a4a4a" text-anchor="start" font-weight="normal" textLength="5.8" lengthAdjust="spacingAndGlyphs" >2</text>
<polyline points="206.8,233.0 204.8,309.5" fill="none" stroke="#222" stroke-width="1.10" />
<text x="224.6" y="407.6" font-size="11.0" font-family="&quot;Liberation Sans&quot;, &quot;Noto Sans CJK SC&quot;, sans-serif" fill="#4a4a4a" text-anchor="start" font-weight="normal" textLength="5.6" lengthAdjust="spacingAndGlyphs" >8</text>
<polyline points="228.3,390.0 236.5,352.0" fill="none" stroke="#2e2e2e" stroke-width="1.00" />
<text x="253.5" y="455.3" font-size="11.0" font-family="&quot;Liberation Sans&quot;, &quot;Noto Sans CJK SC&quot;, sans-serif" fill="#4a4a4a" text-anchor="start" font-weight="normal" textLength="5.6" lengthAdjust="spacingAndGlyphs" >9</text>
<polyline points="260.0,444.0 272.5,411.5" fill="none" stroke="#2e2e2e" stroke-width="1.00" />
<text x="264.8" y="548.0" font-size="11.0" font-family="&quot;Liberation Sans&quot;, &quot;Noto Sans CJK SC&quot;, sans-serif" fill="#4a4a4a" text-anchor="start" font-weight="normal" textLength="10.2" lengthAdjust="spacingAndGlyphs" >10</text>
<path d="M278 537.5 Q287 533 294 525 L358 472.6" fill="none" stroke="#333" stroke-width="0.80" />
</g>
<g id="pump">
<path d="M448 165 L448 224 Q448 227.4 451 227.4 L496 227.4 Q499 227.4 499 224 L499 165" fill="#fff" stroke="#303030" stroke-width="1.43" />
<rect x="463.0" y="227.4" width="5.0" height="2.6" fill="#ddd" stroke="#303030" stroke-width="0.91" />
<path d="M448 165 L445.2 128 L446 118 L450 108 L455.5 100 L462 95 L470 90 L476.5 71 L486 78 L494 84 L506 92 L509 104 L507 114 L500.4 126 L499 165 Z" fill="#fff" stroke="#303030" stroke-width="1.30" />
<polygon points="448.0,165.0 445.2,128.0 446.0,118.0 450.0,108.0 452.5,111.0 449.5,120.0 448.2,128.0 450.8,162.0 452.5,168.0" fill="#c8c8c8" stroke="none" stroke-width="0.00" stroke-linejoin="round"/>
<polyline points="447.8,126.0 450.6,162.0 452.5,168.0" fill="none" stroke="#303030" stroke-width="1.04" />
<polyline points="452.7,110.4 455.0,122.0 459.0,136.0 464.0,147.0" fill="none" stroke="#303030" stroke-width="1.04" />
<polyline points="456.0,108.0 458.5,120.0 462.0,133.0 467.0,144.0" fill="none" stroke="#303030" stroke-width="1.04" />
<polyline points="497.2,128.0 494.5,160.0" fill="none" stroke="#303030" stroke-width="1.04" />
<polygon points="485.4,93.0 489.0,96.0 471.5,128.0 467.5,125.5" fill="#fff" stroke="#303030" stroke-width="1.17" stroke-linejoin="round"/>
<polygon points="485.4,93.0 489.0,91.5 506.0,115.0 502.5,118.5" fill="#fff" stroke="#303030" stroke-width="1.17" stroke-linejoin="round"/>
<polyline points="483.0,124.0 474.0,147.0" fill="none" stroke="#303030" stroke-width="1.04" />
<polyline points="487.0,124.0 479.0,147.0" fill="none" stroke="#303030" stroke-width="1.04" />
<polyline points="497.0,124.0 488.0,146.0" fill="none" stroke="#303030" stroke-width="1.04" />
<polygon points="475.8,89.8 465.6,99.3 465.6,113.6 470.4,119.6 475.8,117.2 479.3,107.7 479.3,95.8" fill="none" stroke="#303030" stroke-width="1.17" stroke-linejoin="round"/>
<ellipse cx="472.5" cy="110.4" rx="5.2" ry="7.5" fill="#fff" stroke="#303030" stroke-width="1.30"/>
<ellipse cx="472.8" cy="110.4" rx="1.6" ry="2.0" fill="#888" stroke="#303030" stroke-width="1.04"/>
<polyline points="472.5,97.0 472.5,103.0" fill="none" stroke="#303030" stroke-width="1.04" />
<ellipse cx="463.0" cy="128.5" rx="4.2" ry="4.8" fill="#fff" stroke="#303030" stroke-width="1.30"/>
<ellipse cx="463.3" cy="128.5" rx="1.5" ry="2.0" fill="#aaa" stroke="#303030" stroke-width="1.04"/>
<ellipse cx="484.0" cy="127.0" rx="3.8" ry="4.8" fill="#fff" stroke="#303030" stroke-width="1.30"/>
<ellipse cx="484.3" cy="127.0" rx="1.5" ry="2.2" fill="#bbb" stroke="#303030" stroke-width="0.91"/>
<path d="M478.5 122 Q477 128 479.5 132" fill="none" stroke="#303030" stroke-width="1.56" />
<ellipse cx="452.0" cy="115.0" rx="0.9" ry="1.1" fill="#444" stroke="none" stroke-width="0.00"/>
<ellipse cx="453.4" cy="128.8" rx="0.9" ry="1.1" fill="#444" stroke="none" stroke-width="0.00"/>
<ellipse cx="450.8" cy="135.0" rx="0.9" ry="1.1" fill="#444" stroke="none" stroke-width="0.00"/>
<ellipse cx="451.5" cy="139.5" rx="0.9" ry="1.1" fill="#444" stroke="none" stroke-width="0.00"/>
<ellipse cx="452.5" cy="146.0" rx="0.9" ry="1.1" fill="#444" stroke="none" stroke-width="0.00"/>
<ellipse cx="461.5" cy="114.0" rx="0.9" ry="1.1" fill="#444" stroke="none" stroke-width="0.00"/>
<ellipse cx="468.0" cy="139.5" rx="0.9" ry="1.1" fill="#444" stroke="none" stroke-width="0.00"/>
<ellipse cx="480.0" cy="106.0" rx="0.9" ry="1.1" fill="#444" stroke="none" stroke-width="0.00"/>
<ellipse cx="449.3" cy="122.0" rx="0.8" ry="1.0" fill="#666" stroke="none" stroke-width="0.00"/>
<ellipse cx="449.6" cy="126.2" rx="0.8" ry="1.0" fill="#666" stroke="none" stroke-width="0.00"/>
<ellipse cx="449.8" cy="130.4" rx="0.8" ry="1.0" fill="#666" stroke="none" stroke-width="0.00"/>
<ellipse cx="450.1" cy="134.6" rx="0.8" ry="1.0" fill="#666" stroke="none" stroke-width="0.00"/>
<ellipse cx="450.3" cy="138.8" rx="0.8" ry="1.0" fill="#666" stroke="none" stroke-width="0.00"/>
<ellipse cx="450.6" cy="143.0" rx="0.8" ry="1.0" fill="#666" stroke="none" stroke-width="0.00"/>
<ellipse cx="450.8" cy="147.2" rx="0.8" ry="1.0" fill="#666" stroke="none" stroke-width="0.00"/>
<polygon points="486.0,108.0 491.0,104.0 498.0,116.0 493.0,120.0" fill="#8a8a8a" stroke="#303030" stroke-width="0.91" stroke-linejoin="round"/>
<rect x="488.5" y="110.0" width="3.5" height="3.0" fill="#333" stroke="none" stroke-width="0.00" transform="rotate(35 490 111)"/>
<rect x="492.0" y="115.0" width="3.5" height="3.0" fill="#333" stroke="none" stroke-width="0.00" transform="rotate(35 493 116)"/>
<rect x="465.7" y="144.5" width="6.1" height="9.5" fill="#fff" stroke="#303030" stroke-width="1.17" />
<rect x="471.0" y="147.0" width="11.8" height="19.5" fill="#fff" stroke="#303030" stroke-width="1.30" />
<ellipse cx="483.5" cy="155.0" rx="0.7" ry="1.2" fill="#555" stroke="none" stroke-width="0.00"/>
<polyline points="471.0,147.0 482.8,147.0" fill="none" stroke="#222" stroke-width="1.69" />
<path d="M452 72.2 L446.6 69.5 L448 56.6 L452.7 50.4 L468.4 50.4 Q474 56 475.9 65.4 L476.5 71 L470 90" fill="#fff" stroke="#303030" stroke-width="1.30" />
<polyline points="451.0,53.0 455.0,55.0 456.0,60.0" fill="none" stroke="#303030" stroke-width="0.91" />
<polyline points="468.0,53.5 472.0,61.0 473.5,70.0 472.0,80.0" fill="none" stroke="#303030" stroke-width="0.91" />
<polygon points="455.4,61.3 464.3,59.3 468.4,62.7 469.0,76.3 464.3,85.9 453.4,87.2 452.0,75.0" fill="#fff" stroke="#303030" stroke-width="1.30" stroke-linejoin="round"/>
<ellipse cx="465.7" cy="65.4" rx="0.9" ry="1.6" fill="#fff" stroke="#303030" stroke-width="0.91"/>
<ellipse cx="455.4" cy="81.8" rx="0.9" ry="1.6" fill="#fff" stroke="#303030" stroke-width="0.91"/>
<ellipse cx="450.0" cy="58.0" rx="0.7" ry="0.9" fill="#666" stroke="none" stroke-width="0.00"/>
<ellipse cx="449.0" cy="64.0" rx="0.7" ry="0.9" fill="#666" stroke="none" stroke-width="0.00"/>
<ellipse cx="453.5" cy="53.0" rx="0.7" ry="0.9" fill="#666" stroke="none" stroke-width="0.00"/>
<ellipse cx="467.0" cy="51.5" rx="0.7" ry="0.9" fill="#666" stroke="none" stroke-width="0.00"/>
<polyline points="453.4,87.2 452.5,89.5" fill="none" stroke="#303030" stroke-width="1.04" />
<polyline points="464.0,86.0 476.0,76.0" fill="none" stroke="#303030" stroke-width="0.91" />
<polygon points="476.5,71.0 480.0,70.0 486.0,75.0 490.0,82.0 486.0,86.0 479.0,80.0" fill="#ccc" stroke="#303030" stroke-width="1.04" stroke-linejoin="round"/>
<rect x="479.0" y="72.0" width="3.0" height="3.0" fill="#555" stroke="none" stroke-width="0.00" />
<rect x="483.0" y="76.0" width="3.5" height="3.0" fill="#555" stroke="none" stroke-width="0.00" />
<rect x="486.0" y="80.0" width="3.0" height="3.0" fill="#555" stroke="none" stroke-width="0.00" />
<path d="M491 84 L494 76 L497 72.5 L500 75 L504 78 L507 84 L508.5 96 L509 104 L507 112 L503 108 L498 100 L493 92 Z" fill="url(#hD)" stroke="#303030" stroke-width="1.17" />
<path d="M497 86 L501 82 L504 88 L500 92 Z" fill="#ddd" stroke="#333" stroke-width="0.78" />
<path d="M499 96 L503 93 L506 100 L502 103 Z" fill="#ccc" stroke="#333" stroke-width="0.78" />
<polyline points="504.5,86.0 509.0,88.0" fill="none" stroke="#222" stroke-width="1.69" />
<polyline points="505.0,90.2 509.1,92.2" fill="none" stroke="#222" stroke-width="1.69" />
<polyline points="505.5,94.4 509.2,96.4" fill="none" stroke="#222" stroke-width="1.69" />
<polyline points="506.0,98.6 509.3,100.6" fill="none" stroke="#222" stroke-width="1.69" />
<polyline points="506.5,102.8 509.4,104.8" fill="none" stroke="#222" stroke-width="1.69" />
<polyline points="507.0,107.0 509.5,109.0" fill="none" stroke="#222" stroke-width="1.69" />
<ellipse cx="497.5" cy="75.0" rx="1.5" ry="2.0" fill="#999" stroke="#333" stroke-width="0.91"/>
<ellipse cx="507.5" cy="113.0" rx="1.6" ry="3.0" fill="#fff" stroke="#303030" stroke-width="1.04"/>
<ellipse cx="472.5" cy="195.0" rx="17.8" ry="28.7" fill="#fff" stroke="#303030" stroke-width="1.43"/>
<ellipse cx="472.5" cy="195.0" rx="15.6" ry="26.2" fill="none" stroke="#303030" stroke-width="1.04"/>
<path d="M461 171.5 Q472 163.5 484 171" fill="none" stroke="#222" stroke-width="2.08" />
<ellipse cx="473.0" cy="194.5" rx="8.8" ry="14.2" fill="#fff" stroke="#333" stroke-width="1.04"/>
<ellipse cx="480.9" cy="199.9" rx="1.5" ry="1.9" fill="#fff" stroke="#2a2a2a" stroke-width="1.17"/>
<ellipse cx="476.3" cy="207.4" rx="1.5" ry="1.9" fill="#fff" stroke="#2a2a2a" stroke-width="1.17"/>
<ellipse cx="469.7" cy="207.4" rx="1.5" ry="1.9" fill="#fff" stroke="#2a2a2a" stroke-width="1.17"/>
<ellipse cx="465.1" cy="199.9" rx="1.5" ry="1.9" fill="#fff" stroke="#2a2a2a" stroke-width="1.17"/>
<ellipse cx="465.1" cy="189.1" rx="1.5" ry="1.9" fill="#fff" stroke="#2a2a2a" stroke-width="1.17"/>
<ellipse cx="469.7" cy="181.6" rx="1.5" ry="1.9" fill="#fff" stroke="#2a2a2a" stroke-width="1.17"/>
<ellipse cx="476.3" cy="181.6" rx="1.5" ry="1.9" fill="#fff" stroke="#2a2a2a" stroke-width="1.17"/>
<ellipse cx="480.9" cy="189.1" rx="1.5" ry="1.9" fill="#fff" stroke="#2a2a2a" stroke-width="1.17"/>
<ellipse cx="473.0" cy="194.5" rx="6.0" ry="10.6" fill="#555" stroke="#1a1a1a" stroke-width="1.95"/>
<ellipse cx="473.0" cy="194.5" rx="3.0" ry="6.0" fill="#fff" stroke="#222" stroke-width="1.04"/>
<ellipse cx="473.0" cy="194.8" rx="0.7" ry="1.2" fill="#777" stroke="none" stroke-width="0.00"/>
<ellipse cx="472.8" cy="172.8" rx="0.6" ry="1.0" fill="#666" stroke="none" stroke-width="0.00"/>
<ellipse cx="472.8" cy="178.6" rx="0.6" ry="1.0" fill="#666" stroke="none" stroke-width="0.00"/>
<ellipse cx="472.8" cy="210.0" rx="0.6" ry="1.0" fill="#666" stroke="none" stroke-width="0.00"/>
<ellipse cx="472.8" cy="216.0" rx="0.6" ry="1.0" fill="#666" stroke="none" stroke-width="0.00"/>
<polyline points="486.3,166.5 493.5,166.5" fill="none" stroke="#222" stroke-width="1.56" />
<polyline points="486.3,168.8 493.5,168.8" fill="none" stroke="#222" stroke-width="1.56" />
<polyline points="486.3,171.1 493.5,171.1" fill="none" stroke="#222" stroke-width="1.56" />
<path d="M490.5 176 Q494 173.5 497.5 176 L497.5 188 Q494 190.5 491.5 188" fill="#fff" stroke="#303030" stroke-width="1.17" />
<ellipse cx="496.0" cy="186.0" rx="1.0" ry="1.5" fill="#888" stroke="#303030" stroke-width="0.65"/>
<ellipse cx="490.2" cy="218.0" rx="1.5" ry="2.4" fill="#fff" stroke="#222" stroke-width="1.30"/>
<polygon points="448.0,167.7 452.7,167.7 452.7,177.0 450.5,177.0 450.5,171.0 448.0,171.0" fill="#fff" stroke="#303030" stroke-width="1.04" stroke-linejoin="round"/>
<path d="M450.5 216 Q451 213.5 455 214 L462 214.5 L464.5 217.5" fill="none" stroke="#303030" stroke-width="1.17" />
<ellipse cx="451.3" cy="217.0" rx="0.9" ry="1.5" fill="#fff" stroke="#303030" stroke-width="0.91"/>
<polyline points="505.8,182.0 478.6,191.6" fill="none" stroke="#222" stroke-width="1.17" />
<polyline points="503.8,163.6 497.7,172.5" fill="none" stroke="#303030" stroke-width="1.04" />
<polyline points="503.0,201.0 491.5,217.0" fill="none" stroke="#303030" stroke-width="1.04" />
<polyline points="436.4,182.0 452.0,216.0" fill="none" stroke="#303030" stroke-width="1.04" />
<polyline points="439.2,149.5 449.0,165.6" fill="none" stroke="#303030" stroke-width="1.04" />
<polyline points="520.8,118.6 491.5,123.4" fill="none" stroke="#222" stroke-width="1.17" />
<polyline points="518.0,140.4 467.0,145.2" fill="none" stroke="#222" stroke-width="1.17" />
<polyline points="440.4,92.7 450.0,106.3" fill="none" stroke="#303030" stroke-width="1.04" />
<polyline points="447.0,94.0 448.6,105.0" fill="none" stroke="#303030" stroke-width="1.04" />
<polyline points="439.5,43.5 447.5,55.5" fill="none" stroke="#303030" stroke-width="1.04" />
<polygon points="446.0,52.5 448.2,56.5 444.8,54.5" fill="#303030" stroke="none" stroke-width="0.00" stroke-linejoin="round"/>
<polyline points="438.5,72.3 452.0,72.3" fill="none" stroke="#222" stroke-width="1.30" />
<polyline points="482.5,54.0 479.5,70.0" fill="none" stroke="#303030" stroke-width="1.04" />
<polyline points="510.0,58.5 502.0,82.0" fill="none" stroke="#303030" stroke-width="1.04" />
<text x="482.7" y="46.5" font-size="11.0" font-family="&quot;Liberation Sans&quot;, &quot;Noto Sans CJK SC&quot;, sans-serif" fill="#4a4a4a" text-anchor="start" font-weight="normal" textLength="6.0" lengthAdjust="spacingAndGlyphs" >6</text>
<text x="509.5" y="51.0" font-size="12.0" font-family="&quot;Liberation Sans&quot;, &quot;Noto Sans CJK SC&quot;, sans-serif" fill="#4a4a4a" text-anchor="start" font-weight="normal" textLength="6.5" lengthAdjust="spacingAndGlyphs" >5</text>
<text x="433.8" y="94.0" font-size="11.0" font-family="&quot;Liberation Sans&quot;, &quot;Noto Sans CJK SC&quot;, sans-serif" fill="#4a4a4a" text-anchor="start" font-weight="normal" textLength="5.0" lengthAdjust="spacingAndGlyphs" >7</text>
<text x="523.5" y="121.8" font-size="10.5" font-family="&quot;Liberation Sans&quot;, &quot;Noto Sans CJK SC&quot;, sans-serif" fill="#4a4a4a" text-anchor="start" font-weight="normal" textLength="5.5" lengthAdjust="spacingAndGlyphs" >8</text>
<text x="523.5" y="144.2" font-size="10.5" font-family="&quot;Liberation Sans&quot;, &quot;Noto Sans CJK SC&quot;, sans-serif" fill="#4a4a4a" text-anchor="start" font-weight="normal" textLength="5.5" lengthAdjust="spacingAndGlyphs" >9</text>
<text x="508.0" y="188.0" font-size="11.0" font-family="&quot;Liberation Sans&quot;, &quot;Noto Sans CJK SC&quot;, sans-serif" fill="#4a4a4a" text-anchor="start" font-weight="normal" textLength="10.5" lengthAdjust="spacingAndGlyphs" >10</text>
<text x="409.7" y="41.5" font-size="10.5" font-family="&quot;Liberation Sans&quot;, &quot;Noto Sans CJK SC&quot;, sans-serif" fill="#444" text-anchor="start" font-weight="bold" textLength="28.0" lengthAdjust="spacingAndGlyphs" >泵出油口</text>
<text x="410.0" y="76.5" font-size="10.5" font-family="&quot;Liberation Sans&quot;, &quot;Noto Sans CJK SC&quot;, sans-serif" fill="#444" text-anchor="start" font-weight="bold" textLength="21.9" lengthAdjust="spacingAndGlyphs" >工作泵</text>
<text x="410.0" y="88.0" font-size="10.5" font-family="&quot;Liberation Sans&quot;, &quot;Noto Sans CJK SC&quot;, sans-serif" fill="#444" text-anchor="start" font-weight="bold" textLength="14.4" lengthAdjust="spacingAndGlyphs" >驱动</text>
<text x="410.0" y="110.5" font-size="10.5" font-family="&quot;Liberation Sans&quot;, &quot;Noto Sans CJK SC&quot;, sans-serif" fill="#444" text-anchor="start" font-weight="bold" textLength="28.0" lengthAdjust="spacingAndGlyphs" >辅助转向</text>
<text x="410.0" y="122.0" font-size="10.5" font-family="&quot;Liberation Sans&quot;, &quot;Noto Sans CJK SC&quot;, sans-serif" fill="#444" text-anchor="start" font-weight="bold" textLength="21.0" lengthAdjust="spacingAndGlyphs" >泵驱动</text>
<text x="410.6" y="143.5" font-size="10.5" font-family="&quot;Liberation Sans&quot;, &quot;Noto Sans CJK SC&quot;, sans-serif" fill="#444" text-anchor="start" font-weight="bold" textLength="23.6" lengthAdjust="spacingAndGlyphs" >停车制动</text>
<text x="410.6" y="157.0" font-size="10.5" font-family="&quot;Liberation Sans&quot;, &quot;Noto Sans CJK SC&quot;, sans-serif" fill="#444" text-anchor="start" font-weight="bold" textLength="28.0" lengthAdjust="spacingAndGlyphs" >器安装面</text>
<text x="410.6" y="177.0" font-size="10.5" font-family="&quot;Liberation Sans&quot;, &quot;Noto Sans CJK SC&quot;, sans-serif" fill="#444" text-anchor="start" font-weight="bold" textLength="19.5" lengthAdjust="spacingAndGlyphs" >停车制</text>
<text x="410.6" y="188.8" font-size="10.5" font-family="&quot;Liberation Sans&quot;, &quot;Noto Sans CJK SC&quot;, sans-serif" fill="#444" text-anchor="start" font-weight="bold" textLength="13.0" lengthAdjust="spacingAndGlyphs" >动杆</text>
<text x="504.5" y="170.3" font-size="10.5" font-family="&quot;Liberation Sans&quot;, &quot;Noto Sans CJK SC&quot;, sans-serif" fill="#444" text-anchor="start" font-weight="bold" textLength="39.6" lengthAdjust="spacingAndGlyphs" >加油管安装位</text>
<text x="504.5" y="207.0" font-size="10.5" font-family="&quot;Liberation Sans&quot;, &quot;Noto Sans CJK SC&quot;, sans-serif" fill="#444" text-anchor="start" font-weight="bold" textLength="34.0" lengthAdjust="spacingAndGlyphs" >油尺安装位</text>
<text x="462.5" y="245.5" font-size="10.5" font-family="&quot;Liberation Sans&quot;, &quot;Noto Sans CJK SC&quot;, sans-serif" fill="#444" text-anchor="start" font-weight="bold" textLength="20.4" lengthAdjust="spacingAndGlyphs" >示意图</text>
<text x="448.0" y="258.0" font-size="10.5" font-family="&quot;Liberation Sans&quot;, &quot;Noto Sans CJK SC&quot;, sans-serif" fill="#444" text-anchor="start" font-weight="bold" textLength="49.0" lengthAdjust="spacingAndGlyphs" >视角为机器后方</text>
</g>
<g id="tc">
<polyline points="724.0,87.4 782.0,139.0" fill="none" stroke="#333" stroke-width="1.20" stroke-dasharray="9 2 2 2" />
<polyline points="692.0,91.9 800.0,188.0" fill="none" stroke="#333" stroke-width="1.20" stroke-dasharray="9 2 2 2" />
<polyline points="679.0,112.3 742.0,168.4" fill="none" stroke="#333" stroke-width="1.20" stroke-dasharray="9 2 2 2" />
<polyline points="742.0,168.4 771.0,194.2" fill="none" stroke="#333" stroke-width="1.20" stroke-dasharray="9 2 2 2" />
<polyline points="674.0,139.9 716.0,177.2" fill="none" stroke="#333" stroke-width="1.20" stroke-dasharray="9 2 2 2" />
<polyline points="615.0,198.3 636.5,217.5" fill="none" stroke="#333" stroke-width="1.20" stroke-dasharray="9 2 2 2" />
<polyline points="615.0,214.3 635.6,232.7" fill="none" stroke="#333" stroke-width="1.20" stroke-dasharray="9 2 2 2" />
<polyline points="718.0,212.0 742.0,233.4" fill="none" stroke="#333" stroke-width="1.20" stroke-dasharray="9 2 2 2" />
<polyline points="674.0,202.9 713.0,237.6" fill="none" stroke="#333" stroke-width="1.20" stroke-dasharray="9 2 2 2" />
<polyline points="719.0,242.4 782.0,298.5" fill="none" stroke="#333" stroke-width="1.20" stroke-dasharray="9 2 2 2" />
<polyline points="674.0,234.9 780.0,329.2" fill="none" stroke="#333" stroke-width="1.20" stroke-dasharray="9 2 2 2" />
<polyline points="684.0,276.8 761.0,345.3" fill="none" stroke="#333" stroke-width="1.20" stroke-dasharray="9 2 2 2" />
<polyline points="675.0,299.8 737.0,354.9" fill="none" stroke="#333" stroke-width="1.20" stroke-dasharray="9 2 2 2" />
<path d="M674 167.0 L674 133.0 Q675.5 115.0 686 101.0 Q692 93.0 699 87.5 L724 87.5" fill="none" stroke="#333" stroke-width="1.15" stroke-dasharray="7 1.5 1.5 1.5" />
<polyline points="724.0,87.5 724.0,83.5 729.0,83.5 729.0,87.5" fill="none" stroke="#333" stroke-width="1.00" />
<path d="M729 87.5 L755.7 87.5 Q761 97.0 770 105.5 Q783.5 118.0 782.6 143.5" fill="none" stroke="#333" stroke-width="1.15" stroke-dasharray="7 1.5 1.5 1.5" />
<path d="M674 274.2 L674 308.2 Q675.5 326.2 686 340.2 Q692 348.2 699 353.7 L724 353.7" fill="none" stroke="#333" stroke-width="1.15" stroke-dasharray="7 1.5 1.5 1.5" />
<polyline points="724.0,353.7 724.0,357.7 729.0,357.7 729.0,353.7" fill="none" stroke="#333" stroke-width="1.00" />
<path d="M729 353.7 L755.7 353.7 Q761 344.2 770 335.7 Q783.5 323.2 782.6 297.7" fill="none" stroke="#333" stroke-width="1.15" stroke-dasharray="7 1.5 1.5 1.5" />
<polyline points="782.6,143.5 770.0,162.0 769.0,185.6" fill="none" stroke="#333" stroke-width="1.00" stroke-dasharray="7 1.5 1.5 1.5" />
<polyline points="782.6,297.7 770.0,279.2 769.0,255.6" fill="none" stroke="#333" stroke-width="1.00" stroke-dasharray="7 1.5 1.5 1.5" />
<polyline points="782.3,143.5 782.3,185.6" fill="none" stroke="#333" stroke-width="1.00" stroke-dasharray="7 1.5 1.5 1.5" />
<polyline points="782.3,297.7 782.3,255.6" fill="none" stroke="#333" stroke-width="1.00" stroke-dasharray="7 1.5 1.5 1.5" />
<polyline points="769.0,185.6 790.0,185.6" fill="none" stroke="#333" stroke-width="1.00" stroke-dasharray="7 1.5 1.5 1.5" />
<polyline points="769.0,255.6 790.0,255.6" fill="none" stroke="#333" stroke-width="1.00" stroke-dasharray="7 1.5 1.5 1.5" />
<polyline points="674.0,150.0 678.0,152.0 684.5,166.0 674.0,168.0" fill="none" stroke="#333" stroke-width="0.90" stroke-dasharray="5 1.5" />
<polyline points="674.0,291.2 678.0,289.2 684.5,275.2 674.0,273.2" fill="none" stroke="#333" stroke-width="0.90" stroke-dasharray="5 1.5" />
<polyline points="790.0,185.6 790.0,189.6 808.0,189.6 811.0,192.4 838.8,192.4" fill="none" stroke="#333" stroke-width="1.00" />
<polyline points="790.0,255.6 790.0,251.6 808.0,251.6 811.0,248.8 838.8,248.8" fill="none" stroke="#333" stroke-width="1.00" />
<polyline points="838.8,192.4 838.8,221.0" fill="none" stroke="#333" stroke-width="1.00" stroke-dasharray="7 1.5 1.5 1.5" />
<polyline points="838.8,248.8 838.8,220.2" fill="none" stroke="#333" stroke-width="1.00" stroke-dasharray="7 1.5 1.5 1.5" />
<polyline points="838.8,243.0 832.0,249.0" fill="none" stroke="#333" stroke-width="0.90" />
<polyline points="742.5,221.0 742.5,197.5 838.8,197.5" fill="none" stroke="#333" stroke-width="1.00" stroke-dasharray="7 1.5 1.5 1.5" />
<polyline points="742.5,220.2 742.5,243.7 838.8,243.7" fill="none" stroke="#333" stroke-width="1.00" stroke-dasharray="7 1.5 1.5 1.5" />
<polyline points="673.0,198.4 673.0,206.0 714.0,206.0" fill="none" stroke="#333" stroke-width="1.00" stroke-dasharray="7 1.5 1.5 1.5" />
<polyline points="673.0,242.8 673.0,235.2 714.0,235.2" fill="none" stroke="#333" stroke-width="1.00" stroke-dasharray="7 1.5 1.5 1.5" />
<polyline points="718.0,200.5 742.5,200.5" fill="none" stroke="#333" stroke-width="1.00" stroke-dasharray="7 1.5 1.5 1.5" />
<polyline points="718.0,240.7 742.5,240.7" fill="none" stroke="#333" stroke-width="1.00" stroke-dasharray="7 1.5 1.5 1.5" />
<rect x="714.3" y="196.5" width="3.8" height="48.2" fill="none" stroke="#333" stroke-width="0.90" />
<polyline points="716.2,197.0 716.2,244.0" fill="none" stroke="#333" stroke-width="0.60" stroke-dasharray="4 1.5" />
<polyline points="636.5,198.4 615.0,198.4 615.0,221.0" fill="none" stroke="#333" stroke-width="0.90" stroke-dasharray="7 1.5 1.5 1.5" />
<polyline points="636.5,242.8 615.0,242.8 615.0,220.2" fill="none" stroke="#333" stroke-width="0.90" stroke-dasharray="7 1.5 1.5 1.5" />
<polyline points="618.0,243.0 621.0,246.0" fill="none" stroke="#333" stroke-width="0.80" />
<rect x="658.8" y="46.4" width="6.5" height="349.6" fill="#fff" stroke="#2a2a2a" stroke-width="1.30" />
<polyline points="662.2,60.0 662.2,392.0" fill="none" stroke="#2a2a2a" stroke-width="1.30" />
<rect x="660.0" y="47.0" width="3.6" height="14.0" fill="#ddd" stroke="#333" stroke-width="0.60" />
<rect x="659.0" y="372.0" width="4.0" height="24.0" fill="#222" stroke="none" stroke-width="0.00" />
<rect x="659.3" y="379.0" width="3.4" height="4.0" fill="#fff" stroke="none" stroke-width="0.00" />
<rect x="659.3" y="388.0" width="3.4" height="3.0" fill="#fff" stroke="none" stroke-width="0.00" />
<polyline points="661.8,75.0 665.5,79.0" fill="none" stroke="#333" stroke-width="0.70" />
<polyline points="661.8,112.0 665.5,116.0" fill="none" stroke="#333" stroke-width="0.70" />
<polyline points="661.8,152.0 665.5,156.0" fill="none" stroke="#333" stroke-width="0.70" />
<polyline points="661.8,290.0 665.5,294.0" fill="none" stroke="#333" stroke-width="0.70" />
<polyline points="661.8,318.0 665.5,322.0" fill="none" stroke="#333" stroke-width="0.70" />
<polyline points="661.8,340.0 665.5,344.0" fill="none" stroke="#333" stroke-width="0.70" />
<rect x="654.3" y="169.4" width="11.3" height="15.0" fill="#fff" stroke="#333" stroke-width="0.90" />
<polygon points="657.5,169.4 662.0,169.4 662.0,174.0 657.5,174.0" fill="#333" stroke="#333" stroke-width="0.50" stroke-linejoin="round"/>
<polygon points="654.3,177.0 665.0,184.4 654.3,184.4" fill="#555" stroke="#333" stroke-width="0.50" stroke-linejoin="round"/>
<path d="M665.6 174.0 H685 L688 177.7 L685 181.5 H665.6 Z" fill="#fff" stroke="#333" stroke-width="0.90" />
<polyline points="668.0,177.7 684.0,177.7" fill="none" stroke="#333" stroke-width="0.60" stroke-dasharray="3 1" />
<rect x="665.6" y="186.0" width="18.4" height="7.7" fill="none" stroke="#333" stroke-width="0.80" />
<polyline points="668.0,189.8 684.0,189.8" fill="none" stroke="#333" stroke-width="0.60" stroke-dasharray="3 1" />
<rect x="654.3" y="256.8" width="11.3" height="15.0" fill="#fff" stroke="#333" stroke-width="0.90" />
<polygon points="657.5,271.8 662.0,271.8 662.0,267.2 657.5,267.2" fill="#333" stroke="#333" stroke-width="0.50" stroke-linejoin="round"/>
<polygon points="654.3,264.2 665.0,256.8 654.3,256.8" fill="#555" stroke="#333" stroke-width="0.50" stroke-linejoin="round"/>
<path d="M665.6 267.2 H685 L688 263.5 L685 259.7 H665.6 Z" fill="#fff" stroke="#333" stroke-width="0.90" />
<polyline points="668.0,263.5 684.0,263.5" fill="none" stroke="#333" stroke-width="0.60" stroke-dasharray="3 1" />
<rect x="665.6" y="247.5" width="18.4" height="7.7" fill="none" stroke="#333" stroke-width="0.80" />
<polyline points="668.0,251.4 684.0,251.4" fill="none" stroke="#333" stroke-width="0.60" stroke-dasharray="3 1" />
<rect x="654.0" y="217.0" width="31.0" height="8.6" fill="#fff" stroke="#333" stroke-width="0.90" />
<rect x="654.0" y="215.5" width="5.0" height="11.6" fill="#fff" stroke="#333" stroke-width="0.90" />
<polyline points="666.0,221.3 690.0,221.3" fill="none" stroke="#333" stroke-width="0.60" stroke-dasharray="4 1.5" />
<polygon points="638.5,189.0 658.0,189.0 658.0,247.0 638.5,247.0 636.5,245.0 636.5,191.0" fill="#fff" stroke="#222" stroke-width="1.20" stroke-linejoin="round"/>
<rect x="638.4" y="191.0" width="13.1" height="53.3" fill="none" stroke="#222" stroke-width="0.90" />
<polygon points="638.4,191.0 651.5,191.0 651.5,197.0" fill="#777" stroke="#222" stroke-width="0.50" stroke-linejoin="round"/>
<polygon points="638.4,244.3 651.5,244.3 651.5,238.0" fill="#777" stroke="#222" stroke-width="0.50" stroke-linejoin="round"/>
<polyline points="651.5,191.0 651.5,244.3" fill="none" stroke="#222" stroke-width="1.20" />
<polyline points="654.3,189.0 654.3,247.0" fill="none" stroke="#222" stroke-width="1.00" />
<polyline points="645.0,221.0 650.0,212.0 650.0,230.0 645.0,221.0" fill="none" stroke="#333" stroke-width="0.70" />
<polyline points="640.0,205.0 651.0,218.0" fill="none" stroke="#333" stroke-width="0.60" />
<polyline points="640.0,236.0 651.0,224.0" fill="none" stroke="#333" stroke-width="0.60" />
<rect x="658.0" y="197.5" width="5.2" height="17.0" fill="url(#hC)" stroke="none" stroke-width="0.00" />
<rect x="658.0" y="227.0" width="5.2" height="16.0" fill="url(#hC)" stroke="none" stroke-width="0.00" />
<polyline points="633.0,221.0 660.0,221.0" fill="none" stroke="#333" stroke-width="0.60" />
<text x="624.3" y="96.6" font-size="9.8" font-family="&quot;Liberation Sans&quot;, &quot;Noto Sans CJK SC&quot;, sans-serif" fill="#444" text-anchor="start" font-weight="normal" textLength="7.9" lengthAdjust="spacingAndGlyphs" >11</text>
<text x="617.8" y="143.8" font-size="9.8" font-family="&quot;Liberation Sans&quot;, &quot;Noto Sans CJK SC&quot;, sans-serif" fill="#444" text-anchor="start" font-weight="normal" textLength="9.2" lengthAdjust="spacingAndGlyphs" >12</text>
<text x="607.9" y="174.1" font-size="9.8" font-family="&quot;Liberation Sans&quot;, &quot;Noto Sans CJK SC&quot;, sans-serif" fill="#444" text-anchor="start" font-weight="normal" textLength="9.6" lengthAdjust="spacingAndGlyphs" >13</text>
<polyline points="645.0,94.0 659.0,104.0" fill="none" stroke="#333" stroke-width="0.70" />
<polyline points="638.4,148.4 659.6,168.0" fill="none" stroke="#333" stroke-width="0.70" />
<polyline points="630.0,174.0 655.0,181.0" fill="none" stroke="#333" stroke-width="0.70" />
<polyline points="782.0,323.0 786.0,326.0 803.0,339.0 814.0,339.0" fill="none" stroke="#333" stroke-width="1.00" />
<polygon points="782.0,322.0 787.5,324.5 785.0,328.0" fill="#333" stroke="none" stroke-width="0.00" stroke-linejoin="round"/>
<text x="816.5" y="343.3" font-size="9.0" font-family="&quot;Liberation Serif&quot;, &quot;Noto Serif CJK SC&quot;, serif" fill="#333" text-anchor="start" font-weight="bold" textLength="26.5" lengthAdjust="spacingAndGlyphs" >变矩器</text>
</g>
</svg>
<svg class="wm" width="1024" height="587" viewBox="0 0 1024 587">
<text x="0" y="0" transform="translate(349.5,474) rotate(-45)" font-family="&quot;Liberation Sans&quot;, sans-serif" font-size="52.85" fill="#267bc8">sinoreach@yeah.net</text>
</svg>
</body></html>
